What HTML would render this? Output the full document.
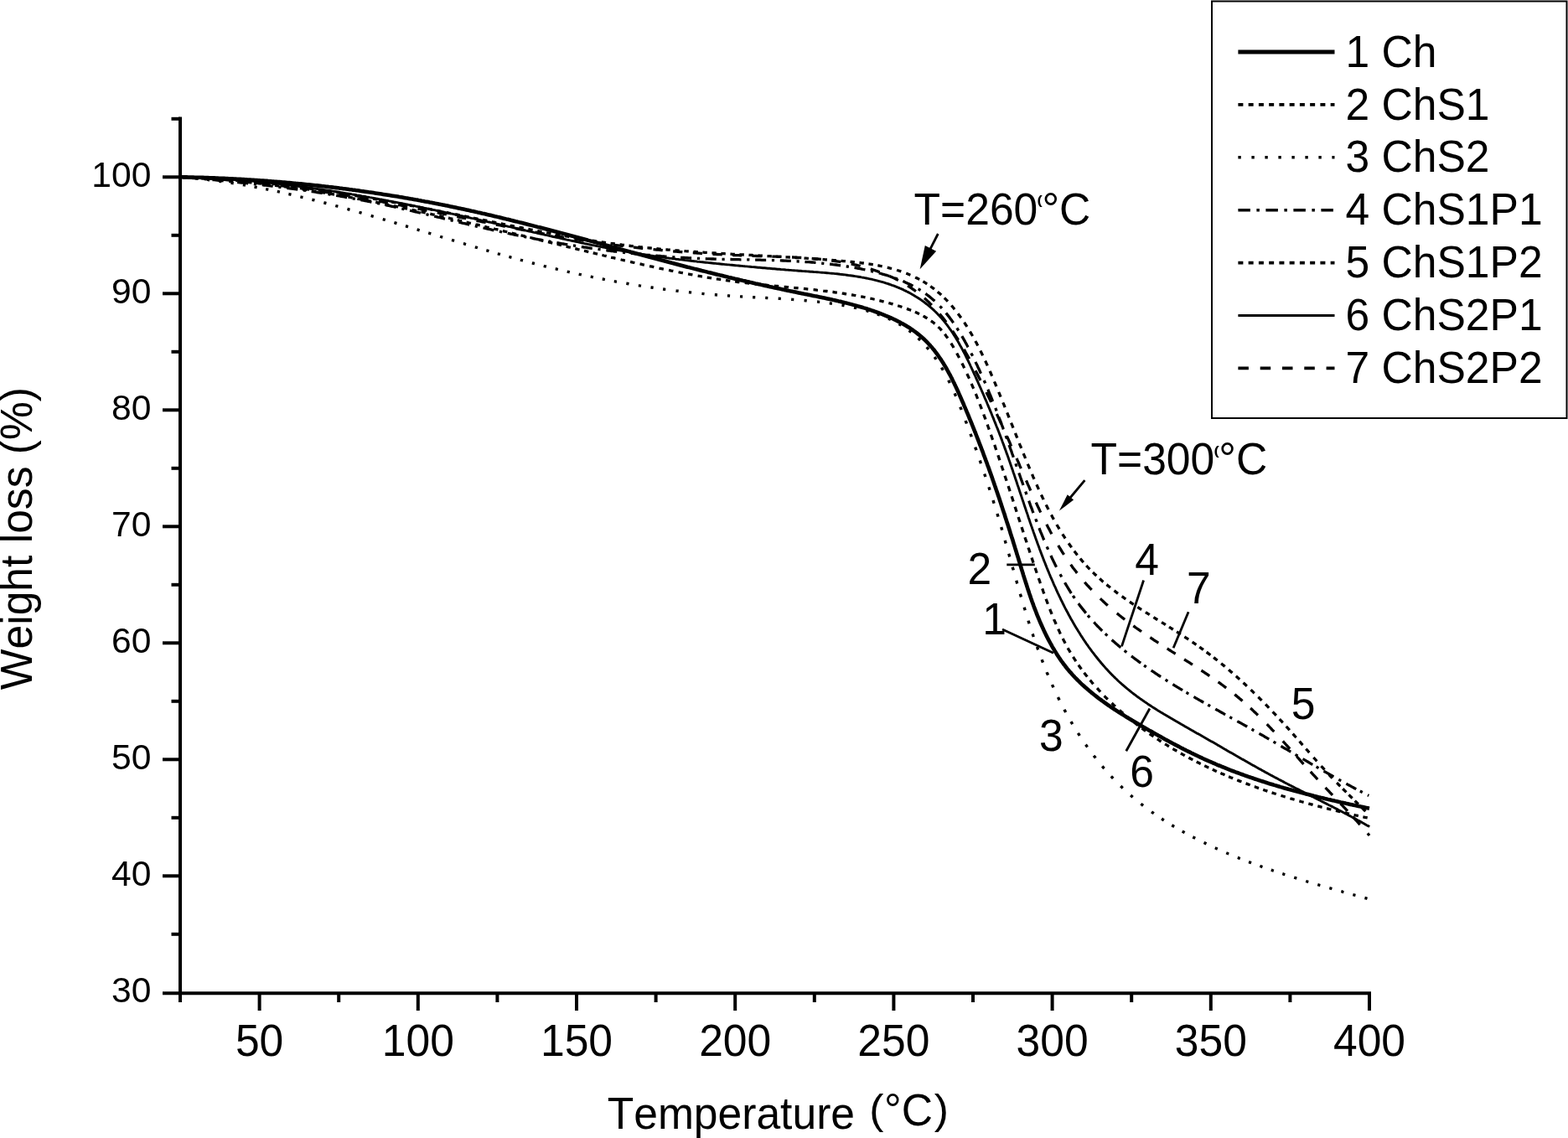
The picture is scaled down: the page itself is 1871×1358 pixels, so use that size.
<!DOCTYPE html>
<html lang="en"><head><meta charset="utf-8"><title>TGA weight loss curves</title>
<style>html,body{margin:0;padding:0;background:#fff}body{width:1871px;height:1358px;overflow:hidden}svg{display:block}text{font-family:"Liberation Sans", sans-serif;fill:#000;font-kerning:none;white-space:pre}</style></head><body>
<svg width="1871" height="1358" viewBox="0 0 1871 1358">
<rect x="0" y="0" width="1871" height="1358" fill="#fff"/>
<g stroke="#000" stroke-width="4.0" fill="none" stroke-linecap="butt">
<path d="M215.0 139.6 V1187.2"/>
<path d="M194.0 1185.2 H1636.0"/>
<path d="M204.5 1114.8 H215.0"/>
<path d="M194.0 1045.3 H215.0"/>
<path d="M204.5 975.8 H215.0"/>
<path d="M194.0 906.3 H215.0"/>
<path d="M204.5 836.8 H215.0"/>
<path d="M194.0 767.3 H215.0"/>
<path d="M204.5 697.8 H215.0"/>
<path d="M194.0 628.3 H215.0"/>
<path d="M204.5 558.8 H215.0"/>
<path d="M194.0 489.3 H215.0"/>
<path d="M204.5 419.8 H215.0"/>
<path d="M194.0 350.3 H215.0"/>
<path d="M204.5 280.8 H215.0"/>
<path d="M194.0 211.3 H215.0"/>
<path d="M204.5 141.8 H215.0"/>
<path d="M215.0 1185.2 V1196.0"/>
<path d="M309.6 1185.2 V1206.0"/>
<path d="M404.2 1185.2 V1196.0"/>
<path d="M498.8 1185.2 V1206.0"/>
<path d="M593.4 1185.2 V1196.0"/>
<path d="M688.0 1185.2 V1206.0"/>
<path d="M782.6 1185.2 V1196.0"/>
<path d="M877.2 1185.2 V1206.0"/>
<path d="M971.8 1185.2 V1196.0"/>
<path d="M1066.4 1185.2 V1206.0"/>
<path d="M1161.0 1185.2 V1196.0"/>
<path d="M1255.6 1185.2 V1206.0"/>
<path d="M1350.2 1185.2 V1196.0"/>
<path d="M1444.8 1185.2 V1206.0"/>
<path d="M1539.4 1185.2 V1196.0"/>
<path d="M1634.0 1185.2 V1206.0"/>
</g>
<g font-size="42.6" text-anchor="end">
<text x="180.4" y="1196.2">30</text>
<text x="180.4" y="1057.2">40</text>
<text x="180.4" y="918.2">50</text>
<text x="180.4" y="779.2">60</text>
<text x="180.4" y="640.2">70</text>
<text x="180.4" y="501.2">80</text>
<text x="180.4" y="362.2">90</text>
<text x="180.4" y="223.2">100</text>
</g>
<text transform="translate(309.6 1260.0) scale(1 1.040)" font-size="51.6" text-anchor="middle">50</text>
<text transform="translate(498.8 1260.0) scale(1 1.040)" font-size="51.6" text-anchor="middle">100</text>
<text transform="translate(688.0 1260.0) scale(1 1.040)" font-size="51.6" text-anchor="middle">150</text>
<text transform="translate(877.2 1260.0) scale(1 1.040)" font-size="51.6" text-anchor="middle">200</text>
<text transform="translate(1066.4 1260.0) scale(1 1.040)" font-size="51.6" text-anchor="middle">250</text>
<text transform="translate(1255.6 1260.0) scale(1 1.040)" font-size="51.6" text-anchor="middle">300</text>
<text transform="translate(1444.8 1260.0) scale(1 1.040)" font-size="51.6" text-anchor="middle">350</text>
<text transform="translate(1634.0 1260.0) scale(1 1.040)" font-size="51.6" text-anchor="middle">400</text>
<text transform="translate(724.7 1347.2) scale(1 1.040)" font-size="51.6" text-anchor="start">Temperature</text>
<text transform="translate(1037.3 1341.3) scale(1 0.965)" font-size="51.6" text-anchor="start">(</text>
<text transform="translate(1055.0 1343.4) scale(1 1.040)" font-size="51.6" text-anchor="start">&#176;C</text>
<text transform="translate(1114.7 1341.3) scale(1 0.965)" font-size="51.6" text-anchor="start">)</text>
<text transform="translate(38.0 642.6) rotate(-90) scale(1 1.040)" font-size="51.6" text-anchor="middle">Weight loss (%)</text>
<g fill="none" stroke="#000" stroke-linejoin="round">
<path stroke-width="3.4" stroke-dasharray="0 3.28 3.15 11.27 3.16 11.27 3.16 11.28 3.16 11.29 3.16 11.3 3.17 10.72 3.17 10.73 3.17 10.74 3.17 10.75 3.18 11.21 3.18 11.22 3.18 11.23 3.18 11.23 3.19 11.49 3.19 11.5 3.19 11.5 3.19 11.51 3.19 11.03 3.19 11.03 3.19 11.04 3.2 11.04 3.2 11.34 3.19 11.34 3.19 11.33 3.19 11.33 3.19 10.87 3.19 10.87 3.19 10.86 3.19 10.85 3.19 11.21 3.18 11.2 3.18 11.19 3.18 11.18 3.18 11.17 3.17 11.16 3.17 11.15 3.17 11.14 3.17 11.61 3.16 11.6 3.16 11.6 3.16 11.59 3.16 12.39 3.16 12.38 3.16 12.37 3.15 12.37 3.15 11.97 3.15 11.97 3.15 11.97 3.15 11.97 3.15 12.35 3.15 12.35 3.15 12.36 3.15 12.36 3.16 11.68 3.16 11.7 3.17 11.73 3.18 11.77 3.19 10.75 3.21 10.84 3.25 10.97 3.29 11.16 3.36 11.01 3.43 11.25 3.51 11.46 3.57 11.66 3.63 13.56 3.67 13.71 3.71 13.81 3.73 13.87 3.74 13.08 3.74 13.09 3.75 13.11 3.75 13.13 3.76 12.84 3.76 12.86 3.77 12.87 3.77 12.89 3.78 12.8 3.78 12.81 3.78 12.81 3.78 12.81 3.78 12.89 3.78 12.88 3.77 12.86 3.77 12.83 3.76 12.59 3.75 12.55 3.73 12.5 3.72 12.44 3.7 12.87 3.68 12.79 3.65 12.7 3.63 12.61 3.6 12.87 3.57 12.76 3.54 12.64 3.5 12.52 3.47 12.85 3.44 12.72 3.4 12.59 3.37 12.48 3.34 11.23 3.32 11.16 3.3 11.1 3.28 11.05 3.27 11.52 3.25 11.47 3.24 11.44 3.23 11.41 3.22 11.04 3.22 11.02 3.21 11 3.21 10.99 3.2 11.47 3.2 11.45 3.19 11.44 3.19 11.44 3.19 11.39 3.19 11.39 3.19 11.38 3.19 52.22" d="M215.0 211.3 L217.0 211.5 L219.1 211.6 L221.1 211.8 L223.2 211.9 L225.2 212.1 L227.3 212.3 L229.3 212.5 L231.3 212.7 L233.4 212.9 L235.4 213.1 L237.4 213.3 L239.5 213.5 L241.5 213.7 L243.5 214.0 L245.6 214.2 L247.6 214.4 L249.6 214.7 L251.7 214.9 L253.7 215.2 L255.7 215.4 L257.7 215.7 L259.7 216.0 L261.8 216.2 L263.8 216.5 L265.8 216.8 L267.8 217.1 L269.8 217.4 L271.9 217.7 L273.9 218.0 L275.9 218.3 L277.9 218.6 L279.9 218.9 L281.9 219.3 L283.9 219.6 L285.9 219.9 L287.9 220.2 L289.9 220.6 L291.9 220.9 L293.9 221.3 L295.9 221.6 L297.9 222.0 L299.9 222.4 L301.9 222.7 L303.9 223.1 L305.9 223.5 L307.9 223.9 L309.9 224.2 L311.9 224.6 L313.9 225.0 L315.9 225.4 L317.9 225.8 L319.9 226.2 L321.9 226.6 L323.9 227.0 L325.9 227.5 L327.9 227.9 L329.8 228.3 L331.8 228.7 L333.8 229.1 L335.8 229.6 L337.8 230.0 L339.8 230.5 L341.7 230.9 L343.7 231.4 L345.7 231.8 L347.7 232.3 L349.7 232.7 L351.6 233.2 L353.6 233.6 L355.6 234.1 L357.6 234.6 L359.6 235.1 L361.5 235.5 L363.5 236.0 L365.5 236.5 L367.4 237.0 L369.4 237.5 L371.4 238.0 L373.4 238.5 L375.3 238.9 L377.3 239.4 L379.3 240.0 L381.2 240.5 L383.2 241.0 L385.2 241.5 L387.1 242.0 L389.1 242.5 L391.1 243.0 L393.0 243.5 L395.0 244.1 L397.0 244.6 L398.9 245.1 L400.9 245.7 L402.9 246.2 L404.8 246.7 L406.8 247.3 L408.7 247.8 L410.7 248.3 L412.7 248.9 L414.6 249.4 L416.6 250.0 L418.5 250.5 L420.5 251.1 L422.5 251.6 L424.4 252.2 L426.4 252.7 L428.3 253.3 L430.3 253.8 L432.2 254.4 L434.2 255.0 L436.2 255.5 L438.1 256.1 L440.1 256.7 L442.0 257.2 L444.0 257.8 L445.9 258.4 L447.9 259.0 L449.8 259.5 L451.8 260.1 L453.7 260.7 L455.7 261.3 L457.6 261.8 L459.6 262.4 L461.6 263.0 L463.5 263.6 L465.5 264.2 L467.4 264.7 L469.4 265.3 L471.3 265.9 L473.3 266.5 L475.2 267.1 L477.2 267.7 L479.1 268.3 L481.1 268.9 L483.0 269.4 L485.0 270.0 L486.9 270.6 L488.9 271.2 L490.8 271.8 L492.8 272.4 L494.7 273.0 L496.7 273.6 L498.6 274.2 L500.6 274.8 L502.5 275.4 L504.5 276.0 L506.4 276.6 L508.4 277.1 L510.3 277.7 L512.3 278.3 L514.2 278.9 L516.2 279.5 L518.1 280.1 L520.1 280.7 L522.0 281.3 L524.0 281.9 L525.9 282.5 L527.9 283.1 L529.8 283.7 L531.8 284.3 L533.7 284.9 L535.7 285.4 L537.6 286.0 L539.6 286.6 L541.5 287.2 L543.5 287.8 L545.4 288.4 L547.4 289.0 L549.3 289.6 L551.3 290.2 L553.3 290.7 L555.2 291.3 L557.2 291.9 L559.1 292.5 L561.1 293.1 L563.0 293.7 L565.0 294.2 L566.9 294.8 L568.9 295.4 L570.8 296.0 L572.8 296.5 L574.8 297.1 L576.7 297.7 L578.7 298.3 L580.6 298.8 L582.6 299.4 L584.5 300.0 L586.5 300.5 L588.5 301.1 L590.4 301.6 L592.4 302.2 L594.3 302.8 L596.3 303.3 L598.3 303.9 L600.2 304.4 L602.2 305.0 L604.1 305.5 L606.1 306.1 L608.1 306.6 L610.0 307.2 L612.0 307.7 L614.0 308.2 L615.9 308.8 L617.9 309.3 L619.9 309.8 L621.8 310.4 L623.8 310.9 L625.8 311.4 L627.7 312.0 L629.7 312.5 L631.7 313.0 L633.6 313.5 L635.6 314.0 L637.6 314.5 L639.6 315.0 L641.5 315.6 L643.5 316.1 L645.5 316.6 L647.4 317.1 L649.4 317.6 L651.4 318.0 L653.4 318.5 L655.4 319.0 L657.3 319.5 L659.3 320.0 L661.3 320.5 L663.3 320.9 L665.3 321.4 L667.2 321.9 L669.2 322.3 L671.2 322.8 L673.2 323.3 L675.2 323.7 L677.2 324.2 L679.1 324.6 L681.1 325.1 L683.1 325.5 L685.1 326.0 L687.1 326.4 L689.1 326.9 L691.1 327.3 L693.1 327.7 L695.0 328.1 L697.0 328.6 L699.0 329.0 L701.0 329.4 L703.0 329.8 L705.0 330.2 L707.0 330.6 L709.0 331.1 L711.0 331.5 L713.0 331.9 L715.0 332.3 L717.0 332.7 L719.0 333.0 L721.0 333.4 L723.0 333.8 L725.0 334.2 L727.0 334.6 L729.0 335.0 L731.0 335.3 L733.0 335.7 L735.0 336.1 L737.0 336.4 L739.0 336.8 L741.0 337.1 L743.0 337.5 L745.0 337.8 L747.0 338.2 L749.0 338.5 L751.0 338.9 L753.0 339.2 L755.0 339.5 L757.0 339.9 L759.0 340.2 L761.1 340.5 L763.1 340.9 L765.1 341.2 L767.1 341.5 L769.1 341.8 L771.1 342.1 L773.1 342.4 L775.1 342.7 L777.1 343.0 L779.2 343.3 L781.2 343.6 L783.2 343.9 L785.2 344.2 L787.2 344.5 L789.2 344.7 L791.2 345.0 L793.3 345.3 L795.3 345.5 L797.3 345.8 L799.3 346.1 L801.3 346.3 L803.3 346.6 L805.4 346.8 L807.4 347.1 L809.4 347.3 L811.4 347.6 L813.4 347.8 L815.5 348.0 L817.5 348.3 L819.5 348.5 L821.5 348.7 L823.5 348.9 L825.6 349.2 L827.6 349.4 L829.6 349.6 L831.6 349.8 L833.7 350.0 L835.7 350.2 L837.7 350.4 L839.7 350.6 L841.8 350.8 L843.8 351.0 L845.8 351.1 L847.8 351.3 L849.9 351.5 L851.9 351.7 L853.9 351.8 L855.9 352.0 L858.0 352.2 L860.0 352.3 L862.0 352.5 L864.0 352.6 L866.1 352.8 L868.1 352.9 L870.1 353.0 L872.2 353.2 L874.2 353.3 L876.2 353.4 L878.2 353.6 L880.3 353.7 L882.3 353.8 L884.3 353.9 L886.4 354.0 L888.4 354.1 L890.4 354.3 L892.5 354.4 L894.5 354.5 L896.5 354.6 L898.6 354.7 L900.6 354.8 L902.6 354.9 L904.7 355.0 L906.7 355.1 L908.7 355.2 L910.8 355.3 L912.8 355.4 L914.8 355.5 L916.9 355.6 L918.9 355.8 L920.9 355.9 L923.0 356.0 L925.0 356.1 L927.0 356.2 L929.1 356.3 L931.1 356.4 L933.2 356.6 L935.2 356.7 L937.2 356.8 L939.3 357.0 L941.3 357.1 L943.3 357.2 L945.4 357.4 L947.4 357.5 L949.5 357.7 L951.5 357.8 L953.5 358.0 L955.6 358.2 L957.6 358.3 L959.7 358.5 L961.7 358.7 L963.7 358.9 L965.8 359.1 L967.8 359.3 L969.9 359.5 L971.9 359.7 L973.9 359.9 L976.0 360.1 L978.0 360.4 L980.1 360.6 L982.1 360.9 L984.2 361.1 L986.2 361.4 L988.2 361.6 L990.3 361.9 L992.3 362.2 L994.4 362.5 L996.4 362.8 L998.5 363.1 L1000.5 363.5 L1002.5 363.8 L1004.6 364.1 L1006.6 364.5 L1008.6 364.9 L1010.7 365.3 L1012.7 365.7 L1014.7 366.1 L1016.7 366.5 L1018.7 366.9 L1020.8 367.4 L1022.8 367.8 L1024.8 368.3 L1026.7 368.8 L1028.7 369.3 L1030.7 369.8 L1032.7 370.4 L1034.6 370.9 L1036.6 371.5 L1038.5 372.1 L1040.5 372.7 L1042.4 373.3 L1044.3 374.0 L1046.2 374.6 L1048.1 375.3 L1050.0 376.0 L1051.9 376.7 L1053.7 377.5 L1055.6 378.2 L1057.4 379.0 L1059.3 379.8 L1061.1 380.6 L1062.9 381.5 L1064.7 382.3 L1066.4 383.2 L1068.2 384.1 L1069.9 385.1 L1071.7 386.0 L1073.4 387.0 L1075.1 388.0 L1076.8 389.1 L1078.4 390.1 L1080.1 391.2 L1081.7 392.3 L1083.3 393.5 L1084.9 394.6 L1086.5 395.8 L1088.0 397.0 L1089.6 398.3 L1091.1 399.5 L1092.6 400.8 L1094.1 402.1 L1095.5 403.5 L1097.0 404.9 L1098.4 406.3 L1099.8 407.7 L1101.2 409.1 L1102.6 410.6 L1103.9 412.0 L1105.3 413.5 L1106.6 415.1 L1107.9 416.6 L1109.2 418.2 L1110.4 419.7 L1111.7 421.3 L1112.9 422.9 L1114.1 424.6 L1115.3 426.2 L1116.5 427.9 L1117.6 429.6 L1118.8 431.3 L1119.9 433.0 L1121.0 434.7 L1122.1 436.4 L1123.2 438.2 L1124.2 439.9 L1125.3 441.7 L1126.3 443.5 L1127.3 445.3 L1128.3 447.1 L1129.3 448.9 L1130.2 450.7 L1131.2 452.5 L1132.1 454.4 L1133.0 456.2 L1133.9 458.1 L1134.8 459.9 L1135.7 461.8 L1136.6 463.7 L1137.4 465.5 L1138.3 467.4 L1139.1 469.3 L1139.9 471.2 L1140.8 473.1 L1141.6 475.1 L1142.4 477.0 L1143.2 478.9 L1143.9 480.8 L1144.7 482.7 L1145.5 484.7 L1146.2 486.6 L1147.0 488.5 L1147.7 490.5 L1148.5 492.4 L1149.2 494.3 L1150.0 496.3 L1150.7 498.2 L1151.4 500.1 L1152.1 502.1 L1152.9 504.0 L1153.6 505.9 L1154.3 507.9 L1155.0 509.8 L1155.7 511.7 L1156.4 513.7 L1157.1 515.6 L1157.9 517.5 L1158.6 519.4 L1159.3 521.4 L1160.0 523.3 L1160.6 525.2 L1161.3 527.1 L1162.0 529.0 L1162.7 531.0 L1163.4 532.9 L1164.1 534.8 L1164.8 536.7 L1165.4 538.6 L1166.1 540.6 L1166.8 542.5 L1167.5 544.4 L1168.1 546.3 L1168.8 548.2 L1169.5 550.1 L1170.1 552.0 L1170.8 554.0 L1171.4 555.9 L1172.1 557.8 L1172.8 559.7 L1173.4 561.6 L1174.1 563.5 L1174.7 565.4 L1175.3 567.3 L1176.0 569.3 L1176.6 571.2 L1177.3 573.1 L1177.9 575.0 L1178.5 576.9 L1179.2 578.8 L1179.8 580.8 L1180.4 582.7 L1181.0 584.6 L1181.6 586.5 L1182.3 588.4 L1182.9 590.4 L1183.5 592.3 L1184.1 594.2 L1184.7 596.1 L1185.3 598.1 L1185.9 600.0 L1186.5 601.9 L1187.1 603.9 L1187.7 605.8 L1188.3 607.7 L1188.9 609.6 L1189.5 611.6 L1190.1 613.5 L1190.7 615.5 L1191.2 617.4 L1191.8 619.3 L1192.4 621.3 L1193.0 623.2 L1193.5 625.2 L1194.1 627.1 L1194.7 629.1 L1195.3 631.0 L1195.8 633.0 L1196.4 634.9 L1196.9 636.9 L1197.5 638.9 L1198.1 640.8 L1198.6 642.8 L1199.2 644.7 L1199.7 646.7 L1200.3 648.7 L1200.9 650.6 L1201.4 652.6 L1202.0 654.5 L1202.5 656.5 L1203.1 658.5 L1203.6 660.4 L1204.2 662.4 L1204.7 664.4 L1205.3 666.3 L1205.8 668.3 L1206.4 670.3 L1206.9 672.2 L1207.5 674.2 L1208.0 676.2 L1208.6 678.2 L1209.2 680.1 L1209.7 682.1 L1210.3 684.1 L1210.8 686.0 L1211.4 688.0 L1211.9 690.0 L1212.5 691.9 L1213.1 693.9 L1213.6 695.9 L1214.2 697.8 L1214.8 699.8 L1215.3 701.8 L1215.9 703.7 L1216.5 705.7 L1217.0 707.7 L1217.6 709.6 L1218.2 711.6 L1218.8 713.6 L1219.3 715.5 L1219.9 717.5 L1220.5 719.5 L1221.1 721.4 L1221.7 723.4 L1222.3 725.3 L1222.9 727.3 L1223.5 729.3 L1224.1 731.2 L1224.7 733.2 L1225.3 735.1 L1225.9 737.1 L1226.5 739.0 L1227.1 741.0 L1227.7 742.9 L1228.3 744.9 L1229.0 746.8 L1229.6 748.8 L1230.2 750.7 L1230.9 752.6 L1231.5 754.6 L1232.2 756.5 L1232.8 758.5 L1233.5 760.4 L1234.1 762.3 L1234.8 764.2 L1235.5 766.2 L1236.1 768.1 L1236.8 770.0 L1237.5 771.9 L1238.2 773.9 L1238.9 775.8 L1239.6 777.7 L1240.3 779.6 L1241.0 781.5 L1241.7 783.4 L1242.4 785.3 L1243.1 787.2 L1243.9 789.1 L1244.6 791.0 L1245.3 792.9 L1246.1 794.8 L1246.8 796.7 L1247.6 798.6 L1248.4 800.5 L1249.1 802.3 L1249.9 804.2 L1250.7 806.1 L1251.5 808.0 L1252.3 809.8 L1253.1 811.7 L1253.9 813.6 L1254.7 815.4 L1255.5 817.3 L1256.4 819.1 L1257.2 821.0 L1258.0 822.8 L1258.9 824.6 L1259.8 826.5 L1260.6 828.3 L1261.5 830.1 L1262.4 832.0 L1263.3 833.8 L1264.2 835.6 L1265.1 837.4 L1266.0 839.2 L1266.9 841.0 L1267.9 842.8 L1268.8 844.6 L1269.7 846.4 L1270.7 848.2 L1271.7 850.0 L1272.6 851.8 L1273.6 853.6 L1274.6 855.3 L1275.6 857.1 L1276.6 858.9 L1277.6 860.6 L1278.7 862.4 L1279.7 864.1 L1280.7 865.9 L1281.8 867.6 L1282.8 869.4 L1283.9 871.1 L1285.0 872.8 L1286.1 874.5 L1287.2 876.2 L1288.3 877.9 L1289.4 879.6 L1290.5 881.3 L1291.6 883.0 L1292.8 884.7 L1293.9 886.4 L1295.1 888.1 L1296.3 889.7 L1297.4 891.4 L1298.6 893.0 L1299.8 894.7 L1301.0 896.3 L1302.2 897.9 L1303.4 899.6 L1304.7 901.2 L1305.9 902.8 L1307.2 904.4 L1308.4 906.0 L1309.7 907.6 L1310.9 909.2 L1312.2 910.7 L1313.5 912.3 L1314.8 913.9 L1316.1 915.4 L1317.4 917.0 L1318.8 918.5 L1320.1 920.0 L1321.5 921.5 L1322.8 923.1 L1324.2 924.6 L1325.5 926.1 L1326.9 927.5 L1328.3 929.0 L1329.7 930.5 L1331.1 931.9 L1332.5 933.4 L1334.0 934.8 L1335.4 936.3 L1336.9 937.7 L1338.3 939.1 L1339.8 940.5 L1341.3 941.9 L1342.7 943.3 L1344.2 944.7 L1345.7 946.0 L1347.2 947.4 L1348.8 948.7 L1350.3 950.1 L1351.8 951.4 L1353.4 952.7 L1354.9 954.0 L1356.5 955.3 L1358.1 956.6 L1359.7 957.9 L1361.3 959.2 L1362.9 960.4 L1364.5 961.7 L1366.1 962.9 L1367.7 964.1 L1369.4 965.4 L1371.0 966.6 L1372.6 967.8 L1374.3 969.0 L1376.0 970.1 L1377.6 971.3 L1379.3 972.5 L1381.0 973.6 L1382.7 974.8 L1384.4 975.9 L1386.1 977.0 L1387.8 978.2 L1389.5 979.3 L1391.3 980.4 L1393.0 981.5 L1394.7 982.6 L1396.5 983.6 L1398.2 984.7 L1400.0 985.8 L1401.7 986.8 L1403.5 987.8 L1405.3 988.9 L1407.1 989.9 L1408.8 990.9 L1410.6 991.9 L1412.4 992.9 L1414.2 993.9 L1416.0 994.9 L1417.8 995.9 L1419.6 996.9 L1421.4 997.8 L1423.2 998.8 L1425.0 999.7 L1426.9 1000.7 L1428.7 1001.6 L1430.5 1002.5 L1432.3 1003.4 L1434.2 1004.3 L1436.0 1005.2 L1437.9 1006.1 L1439.7 1007.0 L1441.5 1007.9 L1443.4 1008.8 L1445.2 1009.7 L1447.1 1010.5 L1448.9 1011.4 L1450.8 1012.2 L1452.6 1013.1 L1454.5 1013.9 L1456.4 1014.7 L1458.2 1015.5 L1460.1 1016.4 L1461.9 1017.2 L1463.8 1018.0 L1465.7 1018.8 L1467.6 1019.5 L1469.4 1020.3 L1471.3 1021.1 L1473.2 1021.9 L1475.1 1022.7 L1477.0 1023.4 L1478.8 1024.2 L1480.7 1024.9 L1482.6 1025.7 L1484.5 1026.4 L1486.4 1027.1 L1488.3 1027.9 L1490.2 1028.6 L1492.1 1029.3 L1494.0 1030.0 L1495.9 1030.7 L1497.8 1031.4 L1499.7 1032.1 L1501.6 1032.8 L1503.5 1033.5 L1505.4 1034.2 L1507.4 1034.9 L1509.3 1035.6 L1511.2 1036.2 L1513.1 1036.9 L1515.0 1037.6 L1516.9 1038.2 L1518.9 1038.9 L1520.8 1039.5 L1522.7 1040.2 L1524.6 1040.8 L1526.6 1041.5 L1528.5 1042.1 L1530.4 1042.7 L1532.3 1043.4 L1534.3 1044.0 L1536.2 1044.6 L1538.1 1045.2 L1540.1 1045.9 L1542.0 1046.5 L1544.0 1047.1 L1545.9 1047.7 L1547.8 1048.3 L1549.8 1048.9 L1551.7 1049.5 L1553.7 1050.1 L1555.6 1050.7 L1557.6 1051.3 L1559.5 1051.9 L1561.5 1052.4 L1563.4 1053.0 L1565.4 1053.6 L1567.3 1054.2 L1569.3 1054.8 L1571.2 1055.3 L1573.2 1055.9 L1575.1 1056.5 L1577.1 1057.0 L1579.0 1057.6 L1581.0 1058.2 L1582.9 1058.7 L1584.9 1059.3 L1586.9 1059.8 L1588.8 1060.4 L1590.8 1061.0 L1592.7 1061.5 L1594.7 1062.1 L1596.7 1062.6 L1598.6 1063.2 L1600.6 1063.7 L1602.5 1064.3 L1604.5 1064.8 L1606.5 1065.4 L1608.4 1065.9 L1610.4 1066.5 L1612.4 1067.0 L1614.3 1067.6 L1616.3 1068.1 L1618.3 1068.6 L1620.2 1069.2 L1622.2 1069.7 L1624.2 1070.3 L1626.1 1070.8 L1628.1 1071.4 L1630.1 1071.9 L1632.0 1072.5 L1634.0 1073.0"/>
<path stroke-width="3.3" stroke-dasharray="0 3.12 5.4 5.63 5.4 5.63 5.4 5.63 5.4 5.63 5.41 5.63 5.41 5.63 5.41 5.64 5.41 5.64 5.41 5.64 5.41 5.64 5.42 5.64 5.42 5.64 5.42 5.65 5.42 5.65 5.42 5.65 5.42 5.65 5.43 5.65 5.43 5.66 5.43 5.66 5.43 5.66 5.43 5.66 5.43 5.66 5.44 5.66 5.44 5.67 5.44 5.67 5.44 5.67 5.44 5.67 5.44 5.67 5.44 5.67 5.45 5.67 5.45 5.67 5.45 5.68 5.45 5.68 5.45 5.68 5.45 5.68 5.45 5.68 5.45 5.68 5.45 5.68 5.45 5.68 5.45 5.68 5.45 5.68 5.45 5.68 5.45 5.58 5.45 5.58 5.45 5.58 5.45 5.58 5.45 5.58 5.45 6.33 5.45 6.33 5.45 6.33 5.44 6.32 5.44 6.32 5.44 6.32 5.44 6.31 5.43 6.31 5.43 6.31 5.43 5.84 5.42 5.84 5.42 5.83 5.42 5.83 5.41 6.36 5.41 6.35 5.41 6.35 5.41 6.35 5.41 6.35 5.41 6.31 5.41 6.31 5.41 6.31 5.41 6.31 5.41 5.95 5.42 5.95 5.42 5.96 5.43 5.97 5.43 5.98 5.44 5.85 5.46 5.86 5.47 5.88 5.49 5.9 5.52 5.19 5.56 5.24 5.64 5.34 5.77 5.48 5.94 5.64 6.09 7.28 6.21 7.38 6.27 7.43 6.31 7.47 6.34 6.7 6.36 6.73 6.39 6.75 6.4 6.76 6.41 6.45 6.42 6.46 6.43 6.46 6.44 6.47 6.44 6.51 6.44 6.52 6.45 6.52 6.45 6.52 6.45 6.52 6.45 6.37 6.45 6.37 6.45 6.37 6.45 6.37 6.44 6.36 6.44 6.36 6.44 6.67 6.43 6.66 6.42 6.65 6.41 6.63 6.39 6.6 6.36 6.4 6.32 6.36 6.28 6.31 6.23 6.25 6.17 5.38 6.11 5.33 6.05 5.29 6.01 6.68 5.95 6.62 5.91 6.57 5.87 6.53 5.83 5.7 5.8 5.67 5.77 5.64 5.74 5.62 5.71 5.31 5.69 5.29 5.66 5.27 5.64 5.25 5.62 5.23 5.6 5.01 5.59 5 5.57 4.99 5.56 4.98 5.55 4.96 5.53 5.51 5.52 5.5 5.51 5.49 5.5 5.48 5.5 5.47 5.49 5.95 5.48 5.95 5.47 5.94 5.47 5.93 5.46 5.93 5.46 5.68 5.45 5.67 5.45 5.67 5.45 5.66 5.44 5.66 5.44 52.15" d="M215.0 211.3 L217.0 211.4 L218.9 211.5 L220.9 211.6 L222.9 211.7 L224.9 211.7 L226.8 211.8 L228.8 212.0 L230.8 212.1 L232.8 212.2 L234.7 212.3 L236.7 212.4 L238.7 212.5 L240.6 212.6 L242.6 212.8 L244.6 212.9 L246.5 213.0 L248.5 213.2 L250.5 213.3 L252.4 213.4 L254.4 213.6 L256.4 213.7 L258.3 213.9 L260.3 214.0 L262.3 214.2 L264.2 214.4 L266.2 214.5 L268.1 214.7 L270.1 214.9 L272.1 215.0 L274.0 215.2 L276.0 215.4 L277.9 215.6 L279.9 215.8 L281.9 215.9 L283.8 216.1 L285.8 216.3 L287.7 216.5 L289.7 216.7 L291.6 216.9 L293.6 217.1 L295.5 217.3 L297.5 217.6 L299.5 217.8 L301.4 218.0 L303.4 218.2 L305.3 218.4 L307.3 218.6 L309.2 218.9 L311.2 219.1 L313.1 219.3 L315.1 219.6 L317.0 219.8 L319.0 220.1 L320.9 220.3 L322.9 220.5 L324.8 220.8 L326.8 221.0 L328.7 221.3 L330.7 221.6 L332.6 221.8 L334.6 222.1 L336.5 222.3 L338.4 222.6 L340.4 222.9 L342.3 223.1 L344.3 223.4 L346.2 223.7 L348.2 224.0 L350.1 224.3 L352.0 224.5 L354.0 224.8 L355.9 225.1 L357.9 225.4 L359.8 225.7 L361.8 226.0 L363.7 226.3 L365.6 226.6 L367.6 226.9 L369.5 227.2 L371.5 227.5 L373.4 227.8 L375.3 228.1 L377.3 228.4 L379.2 228.8 L381.1 229.1 L383.1 229.4 L385.0 229.7 L387.0 230.0 L388.9 230.4 L390.8 230.7 L392.8 231.0 L394.7 231.4 L396.6 231.7 L398.6 232.0 L400.5 232.4 L402.4 232.7 L404.4 233.1 L406.3 233.4 L408.2 233.7 L410.2 234.1 L412.1 234.4 L414.0 234.8 L415.9 235.1 L417.9 235.5 L419.8 235.9 L421.7 236.2 L423.7 236.6 L425.6 236.9 L427.5 237.3 L429.5 237.7 L431.4 238.0 L433.3 238.4 L435.2 238.8 L437.2 239.2 L439.1 239.5 L441.0 239.9 L443.0 240.3 L444.9 240.7 L446.8 241.1 L448.7 241.4 L450.7 241.8 L452.6 242.2 L454.5 242.6 L456.4 243.0 L458.4 243.4 L460.3 243.8 L462.2 244.2 L464.1 244.6 L466.1 245.0 L468.0 245.4 L469.9 245.8 L471.8 246.2 L473.7 246.6 L475.7 247.0 L477.6 247.4 L479.5 247.8 L481.4 248.2 L483.4 248.6 L485.3 249.0 L487.2 249.4 L489.1 249.8 L491.0 250.3 L493.0 250.7 L494.9 251.1 L496.8 251.5 L498.7 251.9 L500.6 252.4 L502.6 252.8 L504.5 253.2 L506.4 253.6 L508.3 254.1 L510.2 254.5 L512.2 254.9 L514.1 255.3 L516.0 255.8 L517.9 256.2 L519.8 256.6 L521.7 257.1 L523.7 257.5 L525.6 257.9 L527.5 258.4 L529.4 258.8 L531.3 259.3 L533.2 259.7 L535.2 260.1 L537.1 260.6 L539.0 261.0 L540.9 261.5 L542.8 261.9 L544.7 262.4 L546.7 262.8 L548.6 263.3 L550.5 263.7 L552.4 264.2 L554.3 264.6 L556.2 265.1 L558.1 265.5 L560.1 266.0 L562.0 266.4 L563.9 266.9 L565.8 267.3 L567.7 267.8 L569.6 268.2 L571.5 268.7 L573.4 269.1 L575.4 269.6 L577.3 270.1 L579.2 270.5 L581.1 271.0 L583.0 271.4 L584.9 271.9 L586.8 272.4 L588.7 272.8 L590.7 273.3 L592.6 273.7 L594.5 274.2 L596.4 274.7 L598.3 275.1 L600.2 275.6 L602.1 276.1 L604.0 276.5 L606.0 277.0 L607.9 277.4 L609.8 277.9 L611.7 278.4 L613.6 278.8 L615.5 279.3 L617.4 279.8 L619.3 280.2 L621.2 280.7 L623.2 281.2 L625.1 281.6 L627.0 282.1 L628.9 282.6 L630.8 283.1 L632.7 283.5 L634.6 284.0 L636.5 284.5 L638.4 284.9 L640.4 285.4 L642.3 285.9 L644.2 286.3 L646.1 286.8 L648.0 287.3 L649.9 287.7 L651.8 288.2 L653.7 288.7 L655.6 289.1 L657.5 289.6 L659.5 290.1 L661.4 290.6 L663.3 291.0 L665.2 291.5 L667.1 292.0 L669.0 292.4 L670.9 292.9 L672.8 293.4 L674.7 293.8 L676.6 294.3 L678.6 294.8 L680.5 295.2 L682.4 295.7 L684.3 296.2 L686.2 296.6 L688.1 297.1 L690.0 297.6 L691.9 298.0 L693.8 298.5 L695.7 299.0 L697.7 299.4 L699.6 299.9 L701.5 300.4 L703.4 300.8 L705.3 301.3 L707.2 301.7 L709.1 302.2 L711.0 302.7 L712.9 303.1 L714.9 303.6 L716.8 304.1 L718.7 304.5 L720.6 305.0 L722.5 305.4 L724.4 305.9 L726.3 306.3 L728.2 306.8 L730.1 307.3 L732.1 307.7 L734.0 308.2 L735.9 308.6 L737.8 309.1 L739.7 309.5 L741.6 310.0 L743.5 310.4 L745.4 310.9 L747.4 311.3 L749.3 311.7 L751.2 312.2 L753.1 312.6 L755.0 313.1 L756.9 313.5 L758.8 313.9 L760.8 314.4 L762.7 314.8 L764.6 315.2 L766.5 315.7 L768.4 316.1 L770.3 316.5 L772.2 316.9 L774.2 317.4 L776.1 317.8 L778.0 318.2 L779.9 318.6 L781.8 319.0 L783.8 319.4 L785.7 319.9 L787.6 320.3 L789.5 320.7 L791.4 321.1 L793.4 321.5 L795.3 321.9 L797.2 322.3 L799.1 322.7 L801.1 323.1 L803.0 323.4 L804.9 323.8 L806.8 324.2 L808.8 324.6 L810.7 325.0 L812.6 325.4 L814.5 325.7 L816.5 326.1 L818.4 326.5 L820.3 326.8 L822.2 327.2 L824.2 327.5 L826.1 327.9 L828.0 328.3 L830.0 328.6 L831.9 329.0 L833.8 329.3 L835.8 329.6 L837.7 330.0 L839.6 330.3 L841.6 330.6 L843.5 331.0 L845.5 331.3 L847.4 331.6 L849.3 331.9 L851.3 332.2 L853.2 332.5 L855.1 332.8 L857.1 333.1 L859.0 333.4 L861.0 333.7 L862.9 334.0 L864.9 334.3 L866.8 334.6 L868.8 334.9 L870.7 335.1 L872.7 335.4 L874.6 335.7 L876.6 335.9 L878.5 336.2 L880.5 336.5 L882.4 336.7 L884.4 337.0 L886.3 337.2 L888.3 337.4 L890.2 337.7 L892.2 337.9 L894.2 338.1 L896.1 338.3 L898.1 338.6 L900.0 338.8 L902.0 339.0 L904.0 339.2 L905.9 339.4 L907.9 339.6 L909.8 339.8 L911.8 340.0 L913.8 340.2 L915.7 340.4 L917.7 340.6 L919.7 340.8 L921.6 341.0 L923.6 341.1 L925.6 341.3 L927.5 341.5 L929.5 341.7 L931.5 341.9 L933.4 342.1 L935.4 342.3 L937.4 342.4 L939.3 342.6 L941.3 342.8 L943.3 343.0 L945.2 343.2 L947.2 343.4 L949.2 343.6 L951.1 343.7 L953.1 343.9 L955.0 344.1 L957.0 344.3 L959.0 344.5 L960.9 344.7 L962.9 344.9 L964.9 345.1 L966.8 345.3 L968.8 345.5 L970.7 345.7 L972.7 345.9 L974.7 346.2 L976.6 346.4 L978.6 346.6 L980.5 346.8 L982.5 347.1 L984.4 347.3 L986.4 347.5 L988.3 347.8 L990.3 348.0 L992.2 348.3 L994.2 348.5 L996.1 348.8 L998.1 349.1 L1000.0 349.3 L1002.0 349.6 L1003.9 349.9 L1005.9 350.2 L1007.8 350.5 L1009.7 350.8 L1011.7 351.1 L1013.6 351.4 L1015.6 351.7 L1017.5 352.0 L1019.4 352.4 L1021.3 352.7 L1023.3 353.1 L1025.2 353.4 L1027.1 353.8 L1029.0 354.1 L1031.0 354.5 L1032.9 354.9 L1034.8 355.3 L1036.7 355.7 L1038.6 356.1 L1040.5 356.5 L1042.5 357.0 L1044.4 357.4 L1046.3 357.9 L1048.2 358.3 L1050.1 358.8 L1052.0 359.3 L1053.9 359.8 L1055.8 360.3 L1057.6 360.8 L1059.5 361.3 L1061.4 361.8 L1063.3 362.4 L1065.2 362.9 L1067.1 363.5 L1068.9 364.0 L1070.8 364.6 L1072.7 365.2 L1074.6 365.8 L1076.4 366.5 L1078.3 367.1 L1080.1 367.7 L1082.0 368.4 L1083.8 369.1 L1085.7 369.8 L1087.5 370.5 L1089.3 371.2 L1091.1 372.0 L1092.9 372.8 L1094.7 373.6 L1096.4 374.4 L1098.2 375.3 L1099.9 376.1 L1101.6 377.1 L1103.3 378.0 L1104.9 379.0 L1106.6 380.0 L1108.2 381.0 L1109.8 382.1 L1111.3 383.2 L1112.9 384.3 L1114.4 385.5 L1115.9 386.7 L1117.3 387.9 L1118.7 389.2 L1120.1 390.6 L1121.5 391.9 L1122.8 393.3 L1124.1 394.8 L1125.3 396.3 L1126.6 397.8 L1127.8 399.3 L1128.9 400.9 L1130.1 402.5 L1131.2 404.1 L1132.4 405.7 L1133.4 407.4 L1134.5 409.1 L1135.6 410.8 L1136.6 412.5 L1137.6 414.2 L1138.6 416.0 L1139.6 417.7 L1140.6 419.5 L1141.6 421.3 L1142.5 423.0 L1143.4 424.8 L1144.4 426.6 L1145.3 428.4 L1146.2 430.1 L1147.1 431.9 L1148.0 433.7 L1148.9 435.5 L1149.8 437.3 L1150.6 439.1 L1151.5 440.9 L1152.3 442.7 L1153.2 444.5 L1154.0 446.3 L1154.8 448.1 L1155.7 449.9 L1156.5 451.7 L1157.3 453.5 L1158.1 455.3 L1158.9 457.1 L1159.6 458.9 L1160.4 460.8 L1161.2 462.6 L1162.0 464.4 L1162.7 466.2 L1163.5 468.0 L1164.2 469.9 L1165.0 471.7 L1165.7 473.5 L1166.4 475.3 L1167.1 477.2 L1167.9 479.0 L1168.6 480.8 L1169.3 482.7 L1170.0 484.5 L1170.7 486.3 L1171.4 488.2 L1172.1 490.0 L1172.8 491.9 L1173.5 493.7 L1174.1 495.5 L1174.8 497.4 L1175.5 499.2 L1176.2 501.1 L1176.8 502.9 L1177.5 504.8 L1178.2 506.6 L1178.8 508.5 L1179.5 510.3 L1180.1 512.2 L1180.8 514.0 L1181.4 515.8 L1182.1 517.7 L1182.7 519.6 L1183.4 521.4 L1184.0 523.3 L1184.7 525.1 L1185.3 527.0 L1186.0 528.8 L1186.6 530.7 L1187.3 532.5 L1187.9 534.4 L1188.5 536.2 L1189.2 538.1 L1189.8 539.9 L1190.4 541.8 L1191.0 543.7 L1191.7 545.5 L1192.3 547.4 L1192.9 549.2 L1193.6 551.1 L1194.2 553.0 L1194.8 554.8 L1195.4 556.7 L1196.0 558.5 L1196.7 560.4 L1197.3 562.3 L1197.9 564.1 L1198.5 566.0 L1199.1 567.9 L1199.7 569.7 L1200.3 571.6 L1201.0 573.4 L1201.6 575.3 L1202.2 577.2 L1202.8 579.0 L1203.4 580.9 L1204.0 582.8 L1204.6 584.6 L1205.2 586.5 L1205.8 588.4 L1206.4 590.2 L1207.1 592.1 L1207.7 594.0 L1208.3 595.8 L1208.9 597.7 L1209.5 599.6 L1210.1 601.4 L1210.7 603.3 L1211.3 605.2 L1211.9 607.1 L1212.5 608.9 L1213.1 610.8 L1213.7 612.7 L1214.3 614.5 L1214.9 616.4 L1215.5 618.3 L1216.1 620.1 L1216.8 622.0 L1217.4 623.9 L1218.0 625.7 L1218.6 627.6 L1219.2 629.5 L1219.8 631.3 L1220.4 633.2 L1221.0 635.1 L1221.6 637.0 L1222.2 638.8 L1222.8 640.7 L1223.4 642.6 L1224.1 644.4 L1224.7 646.3 L1225.3 648.2 L1225.9 650.0 L1226.5 651.9 L1227.1 653.8 L1227.8 655.6 L1228.4 657.5 L1229.0 659.4 L1229.6 661.3 L1230.2 663.1 L1230.9 665.0 L1231.5 666.9 L1232.1 668.7 L1232.7 670.6 L1233.4 672.5 L1234.0 674.3 L1234.6 676.2 L1235.3 678.1 L1235.9 679.9 L1236.5 681.8 L1237.2 683.7 L1237.8 685.5 L1238.4 687.4 L1239.1 689.2 L1239.7 691.1 L1240.4 693.0 L1241.0 694.8 L1241.7 696.7 L1242.3 698.6 L1243.0 700.4 L1243.6 702.3 L1244.3 704.1 L1244.9 706.0 L1245.6 707.9 L1246.3 709.7 L1246.9 711.6 L1247.6 713.4 L1248.3 715.3 L1249.0 717.1 L1249.7 719.0 L1250.4 720.8 L1251.1 722.7 L1251.8 724.5 L1252.5 726.3 L1253.2 728.2 L1253.9 730.0 L1254.7 731.8 L1255.4 733.6 L1256.1 735.5 L1256.9 737.3 L1257.6 739.1 L1258.4 740.9 L1259.2 742.7 L1260.0 744.5 L1260.8 746.3 L1261.6 748.1 L1262.4 749.9 L1263.2 751.7 L1264.0 753.4 L1264.8 755.2 L1265.7 757.0 L1266.5 758.7 L1267.4 760.5 L1268.3 762.2 L1269.2 764.0 L1270.1 765.7 L1271.0 767.4 L1271.9 769.2 L1272.8 770.9 L1273.8 772.6 L1274.7 774.3 L1275.7 776.0 L1276.7 777.7 L1277.7 779.4 L1278.7 781.0 L1279.7 782.7 L1280.8 784.4 L1281.8 786.0 L1282.9 787.7 L1283.9 789.3 L1285.0 790.9 L1286.1 792.5 L1287.3 794.1 L1288.4 795.7 L1289.5 797.3 L1290.7 798.9 L1291.9 800.5 L1293.1 802.1 L1294.2 803.6 L1295.5 805.2 L1296.7 806.7 L1297.9 808.3 L1299.1 809.8 L1300.4 811.3 L1301.7 812.8 L1302.9 814.3 L1304.2 815.8 L1305.5 817.3 L1306.8 818.8 L1308.2 820.3 L1309.5 821.7 L1310.8 823.2 L1312.2 824.6 L1313.5 826.1 L1314.9 827.5 L1316.3 828.9 L1317.7 830.4 L1319.0 831.8 L1320.4 833.2 L1321.9 834.6 L1323.3 835.9 L1324.7 837.3 L1326.1 838.7 L1327.6 840.0 L1329.0 841.4 L1330.5 842.7 L1331.9 844.0 L1333.4 845.4 L1334.9 846.7 L1336.4 848.0 L1337.8 849.3 L1339.3 850.6 L1340.8 851.9 L1342.3 853.1 L1343.8 854.4 L1345.4 855.7 L1346.9 856.9 L1348.4 858.1 L1349.9 859.4 L1351.5 860.6 L1353.0 861.8 L1354.6 863.0 L1356.1 864.2 L1357.7 865.4 L1359.2 866.6 L1360.8 867.8 L1362.4 869.0 L1364.0 870.1 L1365.5 871.3 L1367.1 872.4 L1368.7 873.6 L1370.3 874.7 L1371.9 875.8 L1373.5 876.9 L1375.2 878.0 L1376.8 879.1 L1378.4 880.2 L1380.0 881.3 L1381.7 882.4 L1383.3 883.5 L1384.9 884.5 L1386.6 885.6 L1388.2 886.6 L1389.9 887.7 L1391.5 888.7 L1393.2 889.7 L1394.9 890.8 L1396.6 891.8 L1398.2 892.8 L1399.9 893.8 L1401.6 894.8 L1403.3 895.7 L1405.0 896.7 L1406.7 897.7 L1408.4 898.7 L1410.1 899.6 L1411.8 900.6 L1413.5 901.5 L1415.2 902.5 L1417.0 903.4 L1418.7 904.3 L1420.4 905.2 L1422.1 906.1 L1423.9 907.0 L1425.6 907.9 L1427.4 908.8 L1429.1 909.7 L1430.9 910.6 L1432.6 911.5 L1434.4 912.3 L1436.1 913.2 L1437.9 914.1 L1439.7 914.9 L1441.4 915.8 L1443.2 916.6 L1445.0 917.4 L1446.8 918.2 L1448.6 919.1 L1450.3 919.9 L1452.1 920.7 L1453.9 921.5 L1455.7 922.3 L1457.5 923.1 L1459.3 923.8 L1461.1 924.6 L1462.9 925.4 L1464.8 926.2 L1466.6 926.9 L1468.4 927.7 L1470.2 928.4 L1472.0 929.2 L1473.9 929.9 L1475.7 930.6 L1477.5 931.4 L1479.3 932.1 L1481.2 932.8 L1483.0 933.5 L1484.9 934.2 L1486.7 934.9 L1488.5 935.6 L1490.4 936.3 L1492.2 937.0 L1494.1 937.7 L1495.9 938.4 L1497.8 939.0 L1499.6 939.7 L1501.5 940.4 L1503.4 941.0 L1505.2 941.7 L1507.1 942.3 L1509.0 943.0 L1510.8 943.6 L1512.7 944.2 L1514.6 944.8 L1516.4 945.5 L1518.3 946.1 L1520.2 946.7 L1522.1 947.3 L1523.9 947.9 L1525.8 948.5 L1527.7 949.1 L1529.6 949.7 L1531.5 950.3 L1533.4 950.9 L1535.3 951.4 L1537.1 952.0 L1539.0 952.6 L1540.9 953.2 L1542.8 953.7 L1544.7 954.3 L1546.6 954.8 L1548.5 955.4 L1550.4 955.9 L1552.3 956.5 L1554.2 957.0 L1556.1 957.5 L1558.0 958.1 L1559.9 958.6 L1561.8 959.1 L1563.7 959.6 L1565.6 960.1 L1567.5 960.7 L1569.4 961.2 L1571.3 961.7 L1573.2 962.2 L1575.1 962.7 L1577.0 963.2 L1578.9 963.6 L1580.8 964.1 L1582.7 964.6 L1584.7 965.1 L1586.6 965.6 L1588.5 966.0 L1590.4 966.5 L1592.3 967.0 L1594.2 967.4 L1596.1 967.9 L1598.0 968.4 L1599.9 968.8 L1601.8 969.3 L1603.7 969.7 L1605.6 970.2 L1607.5 970.6 L1609.5 971.0 L1611.4 971.5 L1613.3 971.9 L1615.2 972.3 L1617.1 972.8 L1619.0 973.2 L1620.9 973.6 L1622.8 974.0 L1624.7 974.5 L1626.6 974.9 L1628.5 975.3 L1630.4 975.7 L1632.3 976.1 L1634.2 976.5"/>
<path stroke-width="3.3" stroke-dasharray="5.34 5.63 5.4 5.63 5.4 5.63 5.4 5.63 5.4 5.63 5.41 5.63 5.41 5.63 5.41 5.63 5.41 5.63 5.41 5.64 5.41 5.64 5.41 5.64 5.41 5.64 5.42 5.64 5.42 5.64 5.42 5.65 5.42 5.65 5.42 5.65 5.42 5.65 5.42 5.65 5.43 5.65 5.43 5.65 5.43 5.66 5.43 5.66 5.43 5.66 5.43 5.66 5.43 5.66 5.43 5.66 5.43 5.66 5.43 5.66 5.44 5.66 5.44 5.66 5.44 5.66 5.44 5.66 5.44 5.66 5.44 5.66 5.44 5.66 5.43 5.66 5.43 5.66 5.43 5.66 5.43 5.66 5.43 5.65 5.43 5.65 5.43 5.65 5.42 5.65 5.42 5.65 5.42 5.64 5.42 5.64 5.41 5.64 5.41 5.64 5.41 5.64 5.41 5.63 5.41 5.63 5.41 5.63 5.41 5.63 5.4 5.63 5.4 5.63 5.4 5.63 5.4 5.63 5.4 5.63 5.4 5.63 5.4 5.63 5.4 5.63 5.4 5.63 5.4 5.63 5.4 5.63 5.4 5.63 5.4 5.63 5.4 5.63 5.4 5.63 5.4 5.63 5.41 5.63 5.41 5.63 5.41 5.64 5.41 5.64 5.42 5.65 5.43 6.25 5.46 6.28 5.49 6.33 5.53 6.39 5.6 4.85 5.67 4.92 5.75 4.99 5.84 5.07 5.93 6.48 6.02 6.57 6.1 6.65 6.16 6.72 6.22 6.77 6.27 6.82 6.31 7.09 6.34 7.12 6.36 7.14 6.37 7.15 6.38 7.16 6.38 6.72 6.39 6.72 6.39 6.72 6.39 6.72 6.38 6.72 6.38 7.08 6.37 7.07 6.36 7.05 6.34 7.03 6.32 7 6.29 7.16 6.25 7.12 6.21 7.07 6.17 7.01 6.11 5.36 6.06 5.31 6 5.26 5.94 5.21 5.88 5.16 5.83 5.12 5.79 5.71 5.75 5.68 5.72 5.65 5.7 5.63 5.69 5.64 5.68 5.63 5.67 5.62 5.67 4.97 5.67 4.98 5.68 5.48 5.69 5.49 5.71 4.7 5.73 4.72 5.76 4.73 5.78 5.79 5.8 5.82 5.83 5.84 5.85 5.86 5.87 6.43 5.89 6.45 5.91 6.47 5.93 6.49 5.95 5.88 5.96 5.89 5.97 5.9 5.98 5.91 5.99 5.92 5.99 7.74 5.98 7.73 5.97 7.7 5.94 7.67 5.92 4.24 5.91 4.23 5.9 4.23 5.9 6.16 5.92 6.18 0.08 50" d="M215.0 211.3 L217.0 211.4 L218.9 211.4 L220.9 211.5 L222.8 211.6 L224.8 211.6 L226.7 211.7 L228.7 211.8 L230.6 211.9 L232.6 212.0 L234.5 212.1 L236.5 212.2 L238.4 212.3 L240.4 212.4 L242.3 212.5 L244.3 212.6 L246.2 212.7 L248.2 212.8 L250.1 212.9 L252.1 213.0 L254.0 213.1 L256.0 213.3 L257.9 213.4 L259.8 213.5 L261.8 213.7 L263.7 213.8 L265.7 213.9 L267.6 214.1 L269.6 214.2 L271.5 214.4 L273.4 214.5 L275.4 214.7 L277.3 214.8 L279.3 215.0 L281.2 215.1 L283.1 215.3 L285.1 215.5 L287.0 215.6 L288.9 215.8 L290.9 216.0 L292.8 216.1 L294.7 216.3 L296.7 216.5 L298.6 216.7 L300.5 216.9 L302.5 217.1 L304.4 217.2 L306.3 217.4 L308.3 217.6 L310.2 217.8 L312.1 218.0 L314.1 218.2 L316.0 218.4 L317.9 218.6 L319.8 218.9 L321.8 219.1 L323.7 219.3 L325.6 219.5 L327.6 219.7 L329.5 219.9 L331.4 220.2 L333.3 220.4 L335.3 220.6 L337.2 220.9 L339.1 221.1 L341.0 221.3 L343.0 221.6 L344.9 221.8 L346.8 222.0 L348.7 222.3 L350.7 222.5 L352.6 222.8 L354.5 223.0 L356.4 223.3 L358.3 223.5 L360.3 223.8 L362.2 224.1 L364.1 224.3 L366.0 224.6 L367.9 224.8 L369.9 225.1 L371.8 225.4 L373.7 225.6 L375.6 225.9 L377.5 226.2 L379.5 226.5 L381.4 226.8 L383.3 227.0 L385.2 227.3 L387.1 227.6 L389.0 227.9 L391.0 228.2 L392.9 228.5 L394.8 228.8 L396.7 229.0 L398.6 229.3 L400.5 229.6 L402.5 229.9 L404.4 230.2 L406.3 230.5 L408.2 230.8 L410.1 231.2 L412.0 231.5 L413.9 231.8 L415.9 232.1 L417.8 232.4 L419.7 232.7 L421.6 233.0 L423.5 233.3 L425.4 233.7 L427.3 234.0 L429.2 234.3 L431.2 234.6 L433.1 234.9 L435.0 235.3 L436.9 235.6 L438.8 235.9 L440.7 236.3 L442.6 236.6 L444.5 236.9 L446.4 237.3 L448.4 237.6 L450.3 237.9 L452.2 238.3 L454.1 238.6 L456.0 238.9 L457.9 239.3 L459.8 239.6 L461.7 240.0 L463.6 240.3 L465.5 240.7 L467.4 241.0 L469.4 241.4 L471.3 241.7 L473.2 242.1 L475.1 242.4 L477.0 242.8 L478.9 243.1 L480.8 243.5 L482.7 243.9 L484.6 244.2 L486.5 244.6 L488.4 244.9 L490.3 245.3 L492.3 245.7 L494.2 246.0 L496.1 246.4 L498.0 246.8 L499.9 247.1 L501.8 247.5 L503.7 247.9 L505.6 248.2 L507.5 248.6 L509.4 249.0 L511.3 249.3 L513.2 249.7 L515.1 250.1 L517.1 250.5 L519.0 250.8 L520.9 251.2 L522.8 251.6 L524.7 252.0 L526.6 252.4 L528.5 252.7 L530.4 253.1 L532.3 253.5 L534.2 253.9 L536.1 254.3 L538.0 254.7 L539.9 255.0 L541.9 255.4 L543.8 255.8 L545.7 256.2 L547.6 256.6 L549.5 257.0 L551.4 257.4 L553.3 257.7 L555.2 258.1 L557.1 258.5 L559.0 258.9 L560.9 259.3 L562.8 259.7 L564.8 260.1 L566.7 260.5 L568.6 260.9 L570.5 261.3 L572.4 261.6 L574.3 262.0 L576.2 262.4 L578.1 262.8 L580.0 263.2 L581.9 263.6 L583.8 264.0 L585.8 264.4 L587.7 264.8 L589.6 265.2 L591.5 265.6 L593.4 265.9 L595.3 266.3 L597.2 266.7 L599.1 267.1 L601.0 267.5 L603.0 267.9 L604.9 268.3 L606.8 268.7 L608.7 269.1 L610.6 269.4 L612.5 269.8 L614.4 270.2 L616.3 270.6 L618.2 271.0 L620.2 271.4 L622.1 271.7 L624.0 272.1 L625.9 272.5 L627.8 272.9 L629.7 273.3 L631.6 273.6 L633.5 274.0 L635.4 274.4 L637.4 274.8 L639.3 275.1 L641.2 275.5 L643.1 275.9 L645.0 276.2 L646.9 276.6 L648.8 277.0 L650.8 277.3 L652.7 277.7 L654.6 278.0 L656.5 278.4 L658.4 278.8 L660.3 279.1 L662.2 279.5 L664.2 279.8 L666.1 280.2 L668.0 280.5 L669.9 280.9 L671.8 281.2 L673.7 281.6 L675.6 281.9 L677.6 282.2 L679.5 282.6 L681.4 282.9 L683.3 283.2 L685.2 283.6 L687.1 283.9 L689.1 284.2 L691.0 284.5 L692.9 284.9 L694.8 285.2 L696.7 285.5 L698.6 285.8 L700.6 286.1 L702.5 286.4 L704.4 286.7 L706.3 287.1 L708.2 287.4 L710.2 287.7 L712.1 287.9 L714.0 288.2 L715.9 288.5 L717.8 288.8 L719.7 289.1 L721.7 289.4 L723.6 289.7 L725.5 289.9 L727.4 290.2 L729.3 290.5 L731.3 290.7 L733.2 291.0 L735.1 291.3 L737.0 291.5 L739.0 291.8 L740.9 292.0 L742.8 292.3 L744.7 292.5 L746.6 292.8 L748.6 293.0 L750.5 293.2 L752.4 293.5 L754.3 293.7 L756.3 293.9 L758.2 294.1 L760.1 294.4 L762.0 294.6 L764.0 294.8 L765.9 295.0 L767.8 295.2 L769.7 295.4 L771.6 295.6 L773.6 295.8 L775.5 296.0 L777.4 296.2 L779.4 296.4 L781.3 296.6 L783.2 296.7 L785.1 296.9 L787.1 297.1 L789.0 297.3 L790.9 297.5 L792.8 297.6 L794.8 297.8 L796.7 298.0 L798.6 298.1 L800.6 298.3 L802.5 298.5 L804.4 298.6 L806.3 298.8 L808.3 298.9 L810.2 299.1 L812.1 299.2 L814.1 299.4 L816.0 299.5 L817.9 299.7 L819.9 299.8 L821.8 299.9 L823.7 300.1 L825.6 300.2 L827.6 300.4 L829.5 300.5 L831.4 300.6 L833.4 300.8 L835.3 300.9 L837.2 301.0 L839.2 301.1 L841.1 301.3 L843.0 301.4 L845.0 301.5 L846.9 301.6 L848.8 301.8 L850.8 301.9 L852.7 302.0 L854.7 302.1 L856.6 302.2 L858.5 302.4 L860.5 302.5 L862.4 302.6 L864.3 302.7 L866.3 302.8 L868.2 302.9 L870.1 303.0 L872.1 303.1 L874.0 303.3 L876.0 303.4 L877.9 303.5 L879.8 303.6 L881.8 303.7 L883.7 303.8 L885.7 303.9 L887.6 304.0 L889.5 304.1 L891.5 304.2 L893.4 304.3 L895.4 304.4 L897.3 304.5 L899.2 304.6 L901.2 304.8 L903.1 304.9 L905.1 305.0 L907.0 305.1 L909.0 305.2 L910.9 305.3 L912.9 305.4 L914.8 305.5 L916.7 305.6 L918.7 305.7 L920.6 305.8 L922.6 305.9 L924.5 306.0 L926.5 306.1 L928.4 306.3 L930.4 306.4 L932.3 306.5 L934.3 306.6 L936.2 306.7 L938.2 306.8 L940.1 306.9 L942.1 307.0 L944.0 307.1 L946.0 307.3 L947.9 307.4 L949.9 307.5 L951.8 307.6 L953.8 307.7 L955.7 307.9 L957.7 308.0 L959.6 308.1 L961.6 308.2 L963.5 308.4 L965.5 308.5 L967.4 308.6 L969.4 308.7 L971.3 308.9 L973.3 309.0 L975.2 309.1 L977.2 309.3 L979.1 309.4 L981.1 309.6 L983.1 309.7 L985.0 309.8 L987.0 310.0 L988.9 310.1 L990.9 310.3 L992.8 310.4 L994.8 310.6 L996.8 310.7 L998.7 310.9 L1000.7 311.1 L1002.6 311.2 L1004.6 311.4 L1006.6 311.6 L1008.5 311.7 L1010.5 311.9 L1012.4 312.1 L1014.4 312.3 L1016.3 312.5 L1018.3 312.7 L1020.2 312.9 L1022.2 313.1 L1024.1 313.3 L1026.1 313.5 L1028.0 313.8 L1030.0 314.0 L1031.9 314.3 L1033.8 314.5 L1035.8 314.8 L1037.7 315.1 L1039.6 315.4 L1041.5 315.7 L1043.4 316.0 L1045.4 316.4 L1047.3 316.7 L1049.2 317.1 L1051.1 317.5 L1052.9 317.9 L1054.8 318.3 L1056.7 318.7 L1058.6 319.1 L1060.4 319.6 L1062.3 320.1 L1064.2 320.5 L1066.0 321.1 L1067.8 321.6 L1069.7 322.1 L1071.5 322.7 L1073.3 323.3 L1075.1 323.9 L1076.9 324.5 L1078.7 325.2 L1080.5 325.8 L1082.3 326.5 L1084.0 327.2 L1085.8 328.0 L1087.5 328.7 L1089.3 329.5 L1091.0 330.3 L1092.7 331.2 L1094.4 332.0 L1096.1 332.9 L1097.8 333.8 L1099.5 334.8 L1101.1 335.7 L1102.8 336.7 L1104.4 337.7 L1106.1 338.8 L1107.7 339.8 L1109.3 340.9 L1110.8 342.0 L1112.4 343.2 L1114.0 344.3 L1115.5 345.5 L1117.0 346.7 L1118.5 347.9 L1120.0 349.2 L1121.5 350.4 L1122.9 351.7 L1124.3 353.1 L1125.7 354.4 L1127.1 355.8 L1128.5 357.1 L1129.8 358.5 L1131.2 359.9 L1132.5 361.4 L1133.8 362.8 L1135.1 364.3 L1136.4 365.8 L1137.6 367.3 L1138.8 368.8 L1140.1 370.3 L1141.3 371.8 L1142.5 373.4 L1143.6 374.9 L1144.8 376.5 L1145.9 378.1 L1147.1 379.7 L1148.2 381.3 L1149.3 382.9 L1150.4 384.5 L1151.5 386.1 L1152.5 387.8 L1153.6 389.4 L1154.6 391.1 L1155.7 392.7 L1156.7 394.4 L1157.7 396.1 L1158.7 397.8 L1159.7 399.5 L1160.7 401.2 L1161.6 402.9 L1162.6 404.6 L1163.5 406.3 L1164.4 408.0 L1165.4 409.7 L1166.3 411.5 L1167.2 413.2 L1168.1 415.0 L1169.0 416.7 L1169.8 418.5 L1170.7 420.2 L1171.6 422.0 L1172.4 423.8 L1173.3 425.5 L1174.1 427.3 L1174.9 429.1 L1175.8 430.8 L1176.6 432.6 L1177.4 434.4 L1178.2 436.2 L1179.0 438.0 L1179.8 439.8 L1180.6 441.6 L1181.4 443.3 L1182.2 445.1 L1182.9 446.9 L1183.7 448.7 L1184.5 450.5 L1185.2 452.3 L1186.0 454.1 L1186.7 455.9 L1187.5 457.7 L1188.2 459.5 L1189.0 461.3 L1189.7 463.0 L1190.5 464.8 L1191.2 466.6 L1191.9 468.4 L1192.7 470.2 L1193.4 472.0 L1194.1 473.7 L1194.9 475.5 L1195.6 477.3 L1196.3 479.1 L1197.0 480.9 L1197.8 482.6 L1198.5 484.4 L1199.2 486.2 L1199.9 488.0 L1200.6 489.7 L1201.3 491.5 L1202.1 493.3 L1202.8 495.1 L1203.5 496.9 L1204.2 498.6 L1204.9 500.4 L1205.6 502.2 L1206.3 504.0 L1207.0 505.7 L1207.8 507.5 L1208.5 509.3 L1209.2 511.1 L1209.9 512.9 L1210.6 514.7 L1211.3 516.4 L1212.0 518.2 L1212.7 520.0 L1213.5 521.8 L1214.2 523.6 L1214.9 525.4 L1215.6 527.2 L1216.3 529.0 L1217.0 530.8 L1217.8 532.6 L1218.5 534.4 L1219.2 536.2 L1220.0 538.0 L1220.7 539.8 L1221.4 541.6 L1222.1 543.4 L1222.9 545.2 L1223.6 547.1 L1224.4 548.9 L1225.1 550.7 L1225.9 552.5 L1226.6 554.3 L1227.4 556.1 L1228.1 557.9 L1228.9 559.7 L1229.6 561.6 L1230.4 563.4 L1231.2 565.2 L1232.0 567.0 L1232.7 568.8 L1233.5 570.6 L1234.3 572.4 L1235.1 574.2 L1235.9 576.0 L1236.7 577.8 L1237.5 579.6 L1238.3 581.4 L1239.1 583.2 L1239.9 585.0 L1240.8 586.8 L1241.6 588.6 L1242.4 590.4 L1243.3 592.2 L1244.1 593.9 L1245.0 595.7 L1245.8 597.5 L1246.7 599.2 L1247.6 601.0 L1248.4 602.8 L1249.3 604.5 L1250.2 606.3 L1251.1 608.0 L1252.0 609.8 L1252.9 611.5 L1253.8 613.2 L1254.8 614.9 L1255.7 616.7 L1256.6 618.4 L1257.6 620.1 L1258.5 621.8 L1259.5 623.5 L1260.5 625.2 L1261.4 626.9 L1262.4 628.5 L1263.4 630.2 L1264.4 631.9 L1265.4 633.5 L1266.5 635.2 L1267.5 636.8 L1268.5 638.5 L1269.6 640.1 L1270.6 641.7 L1271.7 643.3 L1272.8 644.9 L1273.9 646.5 L1275.0 648.1 L1276.1 649.7 L1277.2 651.3 L1278.3 652.8 L1279.4 654.4 L1280.6 655.9 L1281.7 657.5 L1282.9 659.0 L1284.1 660.5 L1285.2 662.0 L1286.4 663.5 L1287.7 665.0 L1288.9 666.5 L1290.1 667.9 L1291.3 669.4 L1292.6 670.8 L1293.9 672.3 L1295.1 673.7 L1296.4 675.1 L1297.7 676.5 L1299.0 677.9 L1300.4 679.3 L1301.7 680.6 L1303.0 682.0 L1304.4 683.3 L1305.8 684.7 L1307.2 686.0 L1308.6 687.3 L1310.0 688.6 L1311.4 689.9 L1312.8 691.1 L1314.3 692.4 L1315.7 693.7 L1317.2 694.9 L1318.6 696.2 L1320.1 697.4 L1321.6 698.6 L1323.1 699.8 L1324.6 701.0 L1326.1 702.2 L1327.6 703.4 L1329.2 704.6 L1330.7 705.7 L1332.2 706.9 L1333.8 708.1 L1335.4 709.2 L1336.9 710.4 L1338.5 711.5 L1340.1 712.6 L1341.7 713.8 L1343.3 714.9 L1344.9 716.0 L1346.5 717.1 L1348.1 718.2 L1349.7 719.3 L1351.3 720.4 L1352.9 721.5 L1354.6 722.6 L1356.2 723.6 L1357.8 724.7 L1359.5 725.8 L1361.1 726.9 L1362.8 727.9 L1364.4 729.0 L1366.1 730.0 L1367.8 731.1 L1369.4 732.2 L1371.1 733.2 L1372.7 734.3 L1374.4 735.3 L1376.1 736.4 L1377.7 737.4 L1379.4 738.5 L1381.1 739.5 L1382.8 740.5 L1384.4 741.6 L1386.1 742.6 L1387.8 743.7 L1389.5 744.7 L1391.1 745.8 L1392.8 746.8 L1394.5 747.8 L1396.1 748.9 L1397.8 749.9 L1399.5 751.0 L1401.1 752.0 L1402.8 753.1 L1404.5 754.2 L1406.1 755.2 L1407.8 756.3 L1409.4 757.3 L1411.1 758.4 L1412.7 759.5 L1414.4 760.6 L1416.0 761.6 L1417.6 762.7 L1419.3 763.8 L1420.9 764.9 L1422.5 766.0 L1424.1 767.1 L1425.7 768.2 L1427.4 769.3 L1429.0 770.4 L1430.5 771.5 L1432.1 772.7 L1433.7 773.8 L1435.3 774.9 L1436.9 776.1 L1438.4 777.2 L1440.0 778.4 L1441.5 779.6 L1443.1 780.7 L1444.6 781.9 L1446.2 783.1 L1447.7 784.3 L1449.2 785.4 L1450.7 786.6 L1452.3 787.8 L1453.8 789.0 L1455.3 790.2 L1456.8 791.5 L1458.3 792.7 L1459.8 793.9 L1461.3 795.1 L1462.7 796.4 L1464.2 797.6 L1465.7 798.9 L1467.1 800.1 L1468.6 801.4 L1470.1 802.6 L1471.5 803.9 L1473.0 805.2 L1474.4 806.4 L1475.9 807.7 L1477.3 809.0 L1478.7 810.3 L1480.1 811.6 L1481.6 812.9 L1483.0 814.2 L1484.4 815.5 L1485.8 816.8 L1487.2 818.1 L1488.6 819.4 L1490.0 820.7 L1491.4 822.1 L1492.8 823.4 L1494.2 824.7 L1495.6 826.1 L1497.0 827.4 L1498.3 828.8 L1499.7 830.1 L1501.1 831.5 L1502.5 832.8 L1503.8 834.2 L1505.2 835.5 L1506.5 836.9 L1507.9 838.3 L1509.3 839.7 L1510.6 841.0 L1512.0 842.4 L1513.3 843.8 L1514.6 845.2 L1516.0 846.6 L1517.3 848.0 L1518.6 849.4 L1520.0 850.8 L1521.3 852.2 L1522.6 853.6 L1523.9 855.0 L1525.3 856.5 L1526.6 857.9 L1527.9 859.3 L1529.2 860.7 L1530.5 862.2 L1531.8 863.6 L1533.1 865.0 L1534.4 866.5 L1535.7 867.9 L1537.1 869.4 L1538.4 870.8 L1539.6 872.3 L1540.9 873.7 L1542.2 875.2 L1543.5 876.6 L1544.8 878.1 L1546.1 879.5 L1547.4 881.0 L1548.7 882.5 L1550.0 883.9 L1551.3 885.4 L1552.5 886.9 L1553.8 888.4 L1555.1 889.8 L1556.4 891.3 L1557.7 892.8 L1559.0 894.3 L1560.3 895.7 L1561.5 897.2 L1562.8 898.7 L1564.1 900.1 L1565.4 901.6 L1566.7 903.1 L1568.0 904.6 L1569.3 906.0 L1570.6 907.5 L1571.9 909.0 L1573.2 910.4 L1574.5 911.9 L1575.8 913.3 L1577.1 914.8 L1578.4 916.2 L1579.7 917.7 L1581.0 919.1 L1582.3 920.6 L1583.6 922.0 L1584.9 923.4 L1586.3 924.8 L1587.6 926.3 L1588.9 927.7 L1590.3 929.1 L1591.6 930.5 L1593.0 931.9 L1594.3 933.3 L1595.7 934.6 L1597.0 936.0 L1598.4 937.4 L1599.8 938.8 L1601.1 940.1 L1602.5 941.5 L1603.9 942.9 L1605.2 944.2 L1606.6 945.6 L1608.0 947.0 L1609.4 948.3 L1610.7 949.7 L1612.1 951.0 L1613.5 952.4 L1614.9 953.7 L1616.2 955.1 L1617.6 956.5 L1619.0 957.8 L1620.4 959.2 L1621.7 960.5 L1623.1 961.9 L1624.5 963.3 L1625.9 964.7 L1627.2 966.0 L1628.6 967.4 L1629.9 968.8 L1631.3 970.2 L1632.7 971.6 L1634.0 973.0"/>
<path stroke-width="3.3" stroke-dasharray="2.21 6.76 13.06 6.76 3.15 6.76 13.07 6.76 3.16 6.76 13.07 6.76 3.16 6.76 13.08 6.77 3.16 6.77 13.09 6.77 3.16 6.77 13.1 6.78 3.16 6.78 13.11 6.79 3.17 6.79 13.13 6.8 3.17 6.8 13.15 6.8 3.18 6.81 13.16 6.81 3.18 6.81 13.17 6.81 3.18 6.81 13.17 6.81 3.18 6.81 13.16 6.8 3.17 6.8 13.14 6.79 3.17 6.79 13.13 6.79 3.17 6.78 13.11 6.78 3.16 6.78 13.1 6.77 3.16 6.77 13.08 6.77 3.16 6.76 13.07 6.76 3.15 6.76 13.06 6.76 3.15 6.75 13.06 6.75 3.15 6.75 13.05 6.75 3.15 6.75 13.05 6.75 3.15 6.75 13.05 6.75 3.15 6.75 13.05 6.75 3.15 6.75 13.06 6.76 3.16 6.76 13.09 6.77 3.16 6.78 13.13 6.8 3.18 6.82 13.23 6.87 3.22 6.91 13.47 7.04 3.3 7.13 14 8.76 3.47 7.5 14.69 7.48 3.6 7.75 15.1 8.11 3.67 7.88 15.28 9.13 3.71 7.95 15.41 8.57 3.73 8 15.49 8.01 3.75 8.03 15.53 8.03 3.75 8.04 15.53 8.02 3.75 8.02 15.5 7.61 3.73 7.99 15.42 8.54 3.7 7.92 15.25 9.65 3.65 7.79 14.96 3.57 3.58 7.64 14.63 3.49 3.5 7.47 14.33 4.97 3.43 7.32 14.08 5.66 3.38 7.22 13.9 4.78 3.34 7.14 13.76 6.46 3.31 7.08 13.67 5.14 3.29 7.05 13.61 5.77 3.28 7.03 13.59 5.92 3.28 7.03 13.59 6.07 3.28 7.04 13.62 6.08 3.29 7.05 13.64 6.23 3.29 7.05 13.63 5.01 3.29 7.05 13.61 6.8 3.28 7.03 13.57 5.2 3.27 7 1.45 50" d="M215.0 211.3 L216.9 211.5 L218.9 211.6 L220.8 211.8 L222.7 211.9 L224.6 212.1 L226.6 212.2 L228.5 212.4 L230.4 212.6 L232.4 212.7 L234.3 212.9 L236.2 213.0 L238.1 213.2 L240.1 213.4 L242.0 213.5 L243.9 213.7 L245.8 213.9 L247.8 214.0 L249.7 214.2 L251.6 214.4 L253.6 214.6 L255.5 214.7 L257.4 214.9 L259.3 215.1 L261.3 215.3 L263.2 215.5 L265.1 215.6 L267.1 215.8 L269.0 216.0 L270.9 216.2 L272.8 216.4 L274.8 216.6 L276.7 216.8 L278.6 217.0 L280.5 217.2 L282.5 217.4 L284.4 217.6 L286.3 217.8 L288.2 218.0 L290.2 218.2 L292.1 218.4 L294.0 218.6 L295.9 218.8 L297.9 219.0 L299.8 219.2 L301.7 219.4 L303.6 219.6 L305.6 219.8 L307.5 220.1 L309.4 220.3 L311.3 220.5 L313.3 220.7 L315.2 221.0 L317.1 221.2 L319.0 221.4 L321.0 221.6 L322.9 221.9 L324.8 222.1 L326.7 222.4 L328.6 222.6 L330.6 222.8 L332.5 223.1 L334.4 223.3 L336.3 223.6 L338.2 223.8 L340.2 224.1 L342.1 224.3 L344.0 224.6 L345.9 224.8 L347.8 225.1 L349.8 225.4 L351.7 225.6 L353.6 225.9 L355.5 226.1 L357.4 226.4 L359.3 226.7 L361.3 227.0 L363.2 227.2 L365.1 227.5 L367.0 227.8 L368.9 228.1 L370.8 228.4 L372.7 228.7 L374.7 228.9 L376.6 229.2 L378.5 229.5 L380.4 229.8 L382.3 230.1 L384.2 230.4 L386.1 230.7 L388.0 231.0 L389.9 231.4 L391.9 231.7 L393.8 232.0 L395.7 232.3 L397.6 232.6 L399.5 232.9 L401.4 233.3 L403.3 233.6 L405.2 233.9 L407.1 234.3 L409.0 234.6 L410.9 234.9 L412.8 235.3 L414.7 235.6 L416.6 236.0 L418.5 236.3 L420.4 236.7 L422.3 237.0 L424.2 237.4 L426.1 237.7 L428.0 238.1 L429.9 238.4 L431.8 238.8 L433.7 239.2 L435.6 239.6 L437.5 239.9 L439.4 240.3 L441.3 240.7 L443.2 241.1 L445.1 241.5 L447.0 241.9 L448.9 242.2 L450.8 242.6 L452.7 243.0 L454.6 243.4 L456.5 243.8 L458.3 244.3 L460.2 244.7 L462.1 245.1 L464.0 245.5 L465.9 245.9 L467.8 246.3 L469.7 246.7 L471.6 247.2 L473.5 247.6 L475.3 248.0 L477.2 248.4 L479.1 248.9 L481.0 249.3 L482.9 249.7 L484.8 250.2 L486.6 250.6 L488.5 251.0 L490.4 251.5 L492.3 251.9 L494.2 252.3 L496.1 252.8 L497.9 253.2 L499.8 253.7 L501.7 254.1 L503.6 254.6 L505.5 255.0 L507.4 255.5 L509.2 255.9 L511.1 256.4 L513.0 256.8 L514.9 257.3 L516.8 257.7 L518.6 258.2 L520.5 258.6 L522.4 259.1 L524.3 259.5 L526.2 260.0 L528.1 260.4 L529.9 260.9 L531.8 261.3 L533.7 261.8 L535.6 262.2 L537.5 262.7 L539.3 263.1 L541.2 263.6 L543.1 264.0 L545.0 264.5 L546.9 264.9 L548.8 265.4 L550.6 265.8 L552.5 266.3 L554.4 266.7 L556.3 267.2 L558.2 267.6 L560.0 268.1 L561.9 268.5 L563.8 268.9 L565.7 269.4 L567.6 269.8 L569.5 270.3 L571.4 270.7 L573.2 271.1 L575.1 271.6 L577.0 272.0 L578.9 272.4 L580.8 272.9 L582.7 273.3 L584.6 273.7 L586.5 274.1 L588.3 274.6 L590.2 275.0 L592.1 275.4 L594.0 275.8 L595.9 276.2 L597.8 276.7 L599.7 277.1 L601.6 277.5 L603.5 277.9 L605.4 278.3 L607.3 278.7 L609.2 279.1 L611.1 279.5 L612.9 279.9 L614.8 280.3 L616.7 280.7 L618.6 281.0 L620.5 281.4 L622.4 281.8 L624.3 282.2 L626.2 282.6 L628.1 283.0 L630.0 283.3 L631.9 283.7 L633.8 284.1 L635.7 284.4 L637.6 284.8 L639.5 285.2 L641.4 285.5 L643.3 285.9 L645.2 286.2 L647.1 286.6 L649.0 287.0 L651.0 287.3 L652.9 287.6 L654.8 288.0 L656.7 288.3 L658.6 288.7 L660.5 289.0 L662.4 289.3 L664.3 289.7 L666.2 290.0 L668.1 290.3 L670.0 290.7 L671.9 291.0 L673.8 291.3 L675.7 291.6 L677.7 291.9 L679.6 292.3 L681.5 292.6 L683.4 292.9 L685.3 293.2 L687.2 293.5 L689.1 293.8 L691.0 294.1 L693.0 294.4 L694.9 294.7 L696.8 295.0 L698.7 295.2 L700.6 295.5 L702.5 295.8 L704.4 296.1 L706.4 296.4 L708.3 296.6 L710.2 296.9 L712.1 297.2 L714.0 297.4 L715.9 297.7 L717.9 298.0 L719.8 298.2 L721.7 298.5 L723.6 298.7 L725.5 299.0 L727.5 299.2 L729.4 299.5 L731.3 299.7 L733.2 300.0 L735.1 300.2 L737.1 300.4 L739.0 300.7 L740.9 300.9 L742.8 301.1 L744.7 301.3 L746.7 301.6 L748.6 301.8 L750.5 302.0 L752.4 302.2 L754.4 302.4 L756.3 302.6 L758.2 302.8 L760.1 303.0 L762.1 303.2 L764.0 303.4 L765.9 303.6 L767.8 303.8 L769.8 304.0 L771.7 304.2 L773.6 304.3 L775.5 304.5 L777.5 304.7 L779.4 304.9 L781.3 305.0 L783.3 305.2 L785.2 305.4 L787.1 305.5 L789.0 305.7 L791.0 305.8 L792.9 306.0 L794.8 306.1 L796.8 306.3 L798.7 306.4 L800.6 306.5 L802.5 306.7 L804.5 306.8 L806.4 306.9 L808.3 307.1 L810.3 307.2 L812.2 307.3 L814.1 307.4 L816.1 307.5 L818.0 307.6 L819.9 307.7 L821.9 307.8 L823.8 308.0 L825.7 308.0 L827.7 308.1 L829.6 308.2 L831.5 308.3 L833.5 308.4 L835.4 308.5 L837.3 308.6 L839.3 308.6 L841.2 308.7 L843.1 308.8 L845.1 308.8 L847.0 308.9 L848.9 309.0 L850.9 309.0 L852.8 309.1 L854.7 309.1 L856.7 309.2 L858.6 309.2 L860.5 309.3 L862.5 309.3 L864.4 309.4 L866.3 309.4 L868.3 309.5 L870.2 309.5 L872.1 309.5 L874.1 309.6 L876.0 309.6 L878.0 309.6 L879.9 309.7 L881.8 309.7 L883.8 309.8 L885.7 309.8 L887.6 309.8 L889.6 309.9 L891.5 309.9 L893.4 309.9 L895.4 310.0 L897.3 310.0 L899.2 310.1 L901.2 310.1 L903.1 310.1 L905.1 310.2 L907.0 310.2 L908.9 310.3 L910.9 310.3 L912.8 310.4 L914.7 310.4 L916.7 310.5 L918.6 310.5 L920.5 310.6 L922.5 310.6 L924.4 310.7 L926.3 310.7 L928.3 310.8 L930.2 310.9 L932.1 310.9 L934.1 311.0 L936.0 311.1 L937.9 311.2 L939.9 311.3 L941.8 311.4 L943.7 311.4 L945.7 311.5 L947.6 311.6 L949.5 311.7 L951.5 311.8 L953.4 312.0 L955.3 312.1 L957.3 312.2 L959.2 312.3 L961.1 312.5 L963.0 312.6 L965.0 312.7 L966.9 312.9 L968.8 313.0 L970.8 313.2 L972.7 313.4 L974.6 313.5 L976.5 313.7 L978.5 313.9 L980.4 314.1 L982.3 314.3 L984.3 314.5 L986.2 314.7 L988.1 314.9 L990.0 315.1 L992.0 315.3 L993.9 315.6 L995.8 315.8 L997.7 316.0 L999.6 316.3 L1001.6 316.6 L1003.5 316.8 L1005.4 317.1 L1007.3 317.4 L1009.3 317.7 L1011.2 318.0 L1013.1 318.3 L1015.0 318.6 L1016.9 318.9 L1018.8 319.3 L1020.8 319.6 L1022.7 320.0 L1024.6 320.3 L1026.5 320.7 L1028.4 321.1 L1030.3 321.5 L1032.3 321.9 L1034.2 322.3 L1036.1 322.7 L1038.0 323.2 L1039.9 323.6 L1041.8 324.1 L1043.7 324.5 L1045.6 325.0 L1047.5 325.5 L1049.4 326.0 L1051.3 326.5 L1053.1 327.1 L1055.0 327.6 L1056.9 328.2 L1058.7 328.7 L1060.6 329.3 L1062.4 329.9 L1064.3 330.5 L1066.1 331.2 L1067.9 331.8 L1069.7 332.5 L1071.5 333.2 L1073.3 333.9 L1075.1 334.6 L1076.9 335.3 L1078.6 336.1 L1080.4 336.9 L1082.1 337.7 L1083.8 338.5 L1085.6 339.3 L1087.3 340.1 L1088.9 341.0 L1090.6 341.9 L1092.3 342.8 L1093.9 343.7 L1095.5 344.7 L1097.2 345.7 L1098.8 346.7 L1100.3 347.7 L1101.9 348.7 L1103.5 349.8 L1105.0 350.9 L1106.5 352.0 L1108.0 353.1 L1109.5 354.3 L1110.9 355.5 L1112.4 356.7 L1113.8 357.9 L1115.2 359.1 L1116.6 360.4 L1118.0 361.7 L1119.3 363.0 L1120.6 364.4 L1122.0 365.8 L1123.3 367.1 L1124.5 368.5 L1125.8 370.0 L1127.1 371.4 L1128.3 372.9 L1129.5 374.4 L1130.7 375.9 L1131.9 377.4 L1133.1 378.9 L1134.2 380.4 L1135.4 382.0 L1136.5 383.6 L1137.6 385.2 L1138.7 386.8 L1139.8 388.4 L1140.9 390.0 L1142.0 391.7 L1143.0 393.3 L1144.1 395.0 L1145.1 396.6 L1146.1 398.3 L1147.1 400.0 L1148.1 401.7 L1149.1 403.4 L1150.1 405.1 L1151.1 406.9 L1152.0 408.6 L1153.0 410.3 L1153.9 412.1 L1154.8 413.8 L1155.8 415.5 L1156.7 417.3 L1157.6 419.1 L1158.5 420.8 L1159.4 422.6 L1160.3 424.3 L1161.2 426.1 L1162.0 427.9 L1162.9 429.6 L1163.8 431.4 L1164.6 433.2 L1165.5 434.9 L1166.3 436.7 L1167.1 438.5 L1168.0 440.2 L1168.8 442.0 L1169.6 443.8 L1170.4 445.6 L1171.2 447.3 L1172.0 449.1 L1172.8 450.9 L1173.6 452.7 L1174.4 454.5 L1175.2 456.2 L1175.9 458.0 L1176.7 459.8 L1177.5 461.6 L1178.2 463.4 L1179.0 465.2 L1179.7 467.0 L1180.5 468.8 L1181.2 470.5 L1182.0 472.3 L1182.7 474.1 L1183.4 475.9 L1184.1 477.7 L1184.9 479.5 L1185.6 481.3 L1186.3 483.1 L1187.0 484.9 L1187.7 486.7 L1188.4 488.5 L1189.1 490.3 L1189.8 492.1 L1190.5 493.9 L1191.2 495.7 L1191.9 497.5 L1192.5 499.3 L1193.2 501.1 L1193.9 502.9 L1194.6 504.7 L1195.2 506.5 L1195.9 508.3 L1196.6 510.1 L1197.2 512.0 L1197.9 513.8 L1198.6 515.6 L1199.2 517.4 L1199.9 519.2 L1200.5 521.0 L1201.2 522.8 L1201.8 524.6 L1202.5 526.4 L1203.1 528.3 L1203.8 530.1 L1204.4 531.9 L1205.1 533.7 L1205.7 535.5 L1206.4 537.3 L1207.0 539.1 L1207.6 541.0 L1208.3 542.8 L1208.9 544.6 L1209.5 546.4 L1210.2 548.2 L1210.8 550.0 L1211.5 551.9 L1212.1 553.7 L1212.7 555.5 L1213.4 557.3 L1214.0 559.1 L1214.6 560.9 L1215.3 562.8 L1215.9 564.6 L1216.6 566.4 L1217.2 568.2 L1217.8 570.0 L1218.5 571.9 L1219.1 573.7 L1219.8 575.5 L1220.4 577.3 L1221.0 579.1 L1221.7 581.0 L1222.3 582.8 L1223.0 584.6 L1223.6 586.4 L1224.3 588.2 L1224.9 590.0 L1225.6 591.9 L1226.2 593.7 L1226.9 595.5 L1227.6 597.3 L1228.2 599.1 L1228.9 601.0 L1229.5 602.8 L1230.2 604.6 L1230.9 606.4 L1231.6 608.2 L1232.2 610.0 L1232.9 611.9 L1233.6 613.7 L1234.3 615.5 L1235.0 617.3 L1235.7 619.1 L1236.4 620.9 L1237.1 622.7 L1237.8 624.6 L1238.5 626.4 L1239.2 628.2 L1239.9 630.0 L1240.6 631.8 L1241.3 633.6 L1242.0 635.4 L1242.8 637.2 L1243.5 639.0 L1244.3 640.8 L1245.0 642.6 L1245.7 644.4 L1246.5 646.2 L1247.3 648.0 L1248.0 649.8 L1248.8 651.6 L1249.6 653.4 L1250.4 655.2 L1251.1 657.0 L1251.9 658.7 L1252.7 660.5 L1253.6 662.3 L1254.4 664.0 L1255.2 665.8 L1256.0 667.6 L1256.9 669.3 L1257.7 671.1 L1258.6 672.8 L1259.4 674.6 L1260.3 676.3 L1261.2 678.0 L1262.1 679.7 L1262.9 681.5 L1263.8 683.2 L1264.8 684.9 L1265.7 686.6 L1266.6 688.3 L1267.5 690.0 L1268.5 691.7 L1269.4 693.4 L1270.4 695.0 L1271.4 696.7 L1272.4 698.4 L1273.4 700.0 L1274.4 701.7 L1275.4 703.3 L1276.4 704.9 L1277.4 706.6 L1278.5 708.2 L1279.6 709.8 L1280.6 711.4 L1281.7 713.0 L1282.8 714.6 L1283.9 716.1 L1285.0 717.7 L1286.1 719.3 L1287.3 720.8 L1288.4 722.4 L1289.6 723.9 L1290.8 725.4 L1292.0 726.9 L1293.2 728.4 L1294.4 729.9 L1295.6 731.4 L1296.8 732.9 L1298.1 734.4 L1299.3 735.9 L1300.6 737.3 L1301.9 738.8 L1303.2 740.2 L1304.5 741.6 L1305.8 743.0 L1307.1 744.5 L1308.4 745.9 L1309.7 747.3 L1311.1 748.6 L1312.4 750.0 L1313.8 751.4 L1315.2 752.8 L1316.6 754.1 L1318.0 755.5 L1319.4 756.8 L1320.8 758.1 L1322.2 759.4 L1323.6 760.8 L1325.0 762.1 L1326.5 763.4 L1327.9 764.7 L1329.4 765.9 L1330.8 767.2 L1332.3 768.5 L1333.8 769.7 L1335.2 771.0 L1336.7 772.2 L1338.2 773.5 L1339.7 774.7 L1341.2 775.9 L1342.7 777.2 L1344.2 778.4 L1345.7 779.6 L1347.3 780.8 L1348.8 781.9 L1350.3 783.1 L1351.8 784.3 L1353.4 785.5 L1354.9 786.6 L1356.5 787.8 L1358.0 788.9 L1359.6 790.1 L1361.2 791.2 L1362.7 792.3 L1364.3 793.5 L1365.9 794.6 L1367.4 795.7 L1369.0 796.8 L1370.6 797.9 L1372.2 799.0 L1373.8 800.1 L1375.4 801.2 L1377.0 802.2 L1378.6 803.3 L1380.2 804.4 L1381.8 805.5 L1383.4 806.5 L1385.1 807.6 L1386.7 808.6 L1388.3 809.7 L1389.9 810.7 L1391.6 811.7 L1393.2 812.8 L1394.8 813.8 L1396.5 814.8 L1398.1 815.8 L1399.8 816.9 L1401.4 817.9 L1403.1 818.9 L1404.7 819.9 L1406.4 820.9 L1408.0 821.9 L1409.7 822.9 L1411.4 823.9 L1413.0 824.9 L1414.7 825.8 L1416.4 826.8 L1418.0 827.8 L1419.7 828.8 L1421.4 829.8 L1423.1 830.7 L1424.7 831.7 L1426.4 832.7 L1428.1 833.6 L1429.8 834.6 L1431.5 835.6 L1433.2 836.5 L1434.8 837.5 L1436.5 838.4 L1438.2 839.4 L1439.9 840.3 L1441.6 841.3 L1443.3 842.2 L1445.0 843.2 L1446.7 844.1 L1448.4 845.1 L1450.1 846.0 L1451.8 847.0 L1453.5 847.9 L1455.2 848.8 L1456.8 849.8 L1458.5 850.7 L1460.2 851.7 L1461.9 852.6 L1463.6 853.5 L1465.3 854.5 L1467.0 855.4 L1468.7 856.4 L1470.4 857.3 L1472.1 858.2 L1473.8 859.2 L1475.5 860.1 L1477.2 861.1 L1478.9 862.0 L1480.6 862.9 L1482.3 863.9 L1484.0 864.8 L1485.7 865.8 L1487.4 866.7 L1489.1 867.7 L1490.7 868.6 L1492.4 869.6 L1494.1 870.5 L1495.8 871.5 L1497.5 872.4 L1499.2 873.4 L1500.8 874.3 L1502.5 875.3 L1504.2 876.3 L1505.9 877.2 L1507.6 878.2 L1509.2 879.2 L1510.9 880.1 L1512.6 881.1 L1514.3 882.1 L1515.9 883.0 L1517.6 884.0 L1519.3 885.0 L1520.9 885.9 L1522.6 886.9 L1524.3 887.9 L1525.9 888.9 L1527.6 889.8 L1529.3 890.8 L1531.0 891.8 L1532.6 892.8 L1534.3 893.7 L1536.0 894.7 L1537.6 895.7 L1539.3 896.7 L1540.9 897.6 L1542.6 898.6 L1544.3 899.6 L1545.9 900.6 L1547.6 901.5 L1549.3 902.5 L1550.9 903.5 L1552.6 904.5 L1554.3 905.5 L1555.9 906.4 L1557.6 907.4 L1559.3 908.4 L1560.9 909.3 L1562.6 910.3 L1564.3 911.3 L1566.0 912.3 L1567.6 913.2 L1569.3 914.2 L1571.0 915.2 L1572.6 916.1 L1574.3 917.1 L1576.0 918.1 L1577.7 919.0 L1579.3 920.0 L1581.0 921.0 L1582.7 921.9 L1584.4 922.9 L1586.0 923.8 L1587.7 924.8 L1589.4 925.7 L1591.1 926.7 L1592.8 927.6 L1594.5 928.6 L1596.1 929.5 L1597.8 930.5 L1599.5 931.4 L1601.2 932.3 L1602.9 933.3 L1604.6 934.2 L1606.3 935.1 L1608.0 936.1 L1609.7 937.0 L1611.4 937.9 L1613.1 938.9 L1614.8 939.8 L1616.5 940.7 L1618.2 941.6 L1619.9 942.5 L1621.6 943.4 L1623.4 944.3 L1625.1 945.2 L1626.8 946.1 L1628.5 947.0 L1630.2 947.9 L1632.0 948.8 L1633.7 949.7"/>
<path stroke-width="3.3" stroke-dasharray="0 1.37 11.25 12.43 11.26 12.43 11.26 12.44 11.27 12.44 11.27 12.45 11.28 12.46 11.29 12.47 11.29 12.47 11.3 12.48 11.31 12.49 11.31 12.49 11.32 12.5 11.32 12.5 11.33 12.5 11.33 12.5 11.33 12.5 11.32 12.5 11.32 12.49 11.31 12.48 11.3 12.48 11.3 12.47 11.29 12.46 11.28 12.45 11.27 12.44 11.27 12.44 11.26 12.43 11.26 12.43 11.26 12.42 11.25 12.42 11.25 12.42 11.25 12.42 11.26 12.43 11.27 12.45 11.29 12.49 11.35 12.58 11.45 12.72 11.62 12.96 11.89 12.91 12.26 14.04 12.61 12.91 12.84 12.94 13 15.92 13.1 15.73 13.15 15.72 13.19 15.76 13.22 15.8 13.25 15.55 13.23 15.51 13.17 15.88 13.06 15.71 12.89 14.37 12.67 14.1 12.43 14.56 12.22 14.33 12.04 12.61 11.92 12.52 11.86 12.32 11.83 12.31 11.83 12.43 11.88 12.5 11.97 12.73 12.1 12.9 12.25 15.23 12.37 15.35 12.43 12.19 12.44 12.18 12.41 13.64 12.38 13.63 12.39 9.54 12.44 13.78 3.44 50" d="M215.0 211.3 L217.0 211.4 L218.9 211.5 L220.9 211.5 L222.8 211.6 L224.8 211.7 L226.8 211.8 L228.7 211.9 L230.7 212.0 L232.6 212.1 L234.6 212.2 L236.6 212.3 L238.5 212.4 L240.5 212.5 L242.4 212.6 L244.4 212.8 L246.3 212.9 L248.3 213.0 L250.2 213.1 L252.2 213.3 L254.1 213.4 L256.1 213.5 L258.0 213.7 L260.0 213.8 L261.9 214.0 L263.9 214.1 L265.8 214.3 L267.8 214.4 L269.7 214.6 L271.7 214.8 L273.6 214.9 L275.6 215.1 L277.5 215.3 L279.5 215.4 L281.4 215.6 L283.4 215.8 L285.3 216.0 L287.3 216.1 L289.2 216.3 L291.1 216.5 L293.1 216.7 L295.0 216.9 L297.0 217.1 L298.9 217.3 L300.8 217.5 L302.8 217.7 L304.7 217.9 L306.7 218.1 L308.6 218.3 L310.5 218.5 L312.5 218.8 L314.4 219.0 L316.4 219.2 L318.3 219.4 L320.2 219.7 L322.2 219.9 L324.1 220.1 L326.0 220.4 L328.0 220.6 L329.9 220.8 L331.8 221.1 L333.8 221.3 L335.7 221.6 L337.6 221.8 L339.6 222.1 L341.5 222.3 L343.4 222.6 L345.4 222.8 L347.3 223.1 L349.2 223.3 L351.2 223.6 L353.1 223.9 L355.0 224.1 L357.0 224.4 L358.9 224.7 L360.8 225.0 L362.7 225.2 L364.7 225.5 L366.6 225.8 L368.5 226.1 L370.5 226.4 L372.4 226.6 L374.3 226.9 L376.2 227.2 L378.2 227.5 L380.1 227.8 L382.0 228.1 L383.9 228.4 L385.9 228.7 L387.8 229.0 L389.7 229.3 L391.6 229.6 L393.6 229.9 L395.5 230.2 L397.4 230.5 L399.3 230.9 L401.3 231.2 L403.2 231.5 L405.1 231.8 L407.0 232.1 L409.0 232.4 L410.9 232.8 L412.8 233.1 L414.7 233.4 L416.6 233.7 L418.6 234.1 L420.5 234.4 L422.4 234.7 L424.3 235.1 L426.3 235.4 L428.2 235.7 L430.1 236.1 L432.0 236.4 L433.9 236.8 L435.9 237.1 L437.8 237.5 L439.7 237.8 L441.6 238.1 L443.5 238.5 L445.5 238.8 L447.4 239.2 L449.3 239.5 L451.2 239.9 L453.1 240.3 L455.1 240.6 L457.0 241.0 L458.9 241.3 L460.8 241.7 L462.7 242.1 L464.6 242.4 L466.6 242.8 L468.5 243.1 L470.4 243.5 L472.3 243.9 L474.2 244.2 L476.2 244.6 L478.1 245.0 L480.0 245.4 L481.9 245.7 L483.8 246.1 L485.7 246.5 L487.7 246.9 L489.6 247.2 L491.5 247.6 L493.4 248.0 L495.3 248.4 L497.2 248.7 L499.2 249.1 L501.1 249.5 L503.0 249.9 L504.9 250.3 L506.8 250.7 L508.7 251.1 L510.7 251.4 L512.6 251.8 L514.5 252.2 L516.4 252.6 L518.3 253.0 L520.2 253.4 L522.2 253.8 L524.1 254.2 L526.0 254.6 L527.9 254.9 L529.8 255.3 L531.7 255.7 L533.7 256.1 L535.6 256.5 L537.5 256.9 L539.4 257.3 L541.3 257.7 L543.2 258.1 L545.2 258.5 L547.1 258.9 L549.0 259.3 L550.9 259.7 L552.8 260.1 L554.7 260.4 L556.7 260.8 L558.6 261.2 L560.5 261.6 L562.4 262.0 L564.3 262.4 L566.2 262.8 L568.2 263.2 L570.1 263.6 L572.0 264.0 L573.9 264.4 L575.8 264.8 L577.7 265.2 L579.7 265.5 L581.6 265.9 L583.5 266.3 L585.4 266.7 L587.3 267.1 L589.2 267.5 L591.2 267.9 L593.1 268.3 L595.0 268.6 L596.9 269.0 L598.8 269.4 L600.8 269.8 L602.7 270.2 L604.6 270.6 L606.5 270.9 L608.4 271.3 L610.3 271.7 L612.3 272.1 L614.2 272.4 L616.1 272.8 L618.0 273.2 L619.9 273.6 L621.9 273.9 L623.8 274.3 L625.7 274.7 L627.6 275.0 L629.5 275.4 L631.5 275.8 L633.4 276.1 L635.3 276.5 L637.2 276.9 L639.1 277.2 L641.1 277.6 L643.0 277.9 L644.9 278.3 L646.8 278.6 L648.7 279.0 L650.7 279.3 L652.6 279.7 L654.5 280.0 L656.4 280.4 L658.3 280.7 L660.3 281.1 L662.2 281.4 L664.1 281.7 L666.0 282.1 L668.0 282.4 L669.9 282.7 L671.8 283.1 L673.7 283.4 L675.6 283.7 L677.6 284.0 L679.5 284.4 L681.4 284.7 L683.3 285.0 L685.3 285.3 L687.2 285.6 L689.1 285.9 L691.0 286.2 L693.0 286.5 L694.9 286.8 L696.8 287.1 L698.7 287.4 L700.7 287.7 L702.6 288.0 L704.5 288.3 L706.4 288.6 L708.4 288.9 L710.3 289.2 L712.2 289.4 L714.1 289.7 L716.1 290.0 L718.0 290.3 L719.9 290.5 L721.9 290.8 L723.8 291.1 L725.7 291.3 L727.6 291.6 L729.6 291.8 L731.5 292.1 L733.4 292.4 L735.4 292.6 L737.3 292.8 L739.2 293.1 L741.2 293.3 L743.1 293.6 L745.0 293.8 L746.9 294.0 L748.9 294.3 L750.8 294.5 L752.7 294.7 L754.7 295.0 L756.6 295.2 L758.5 295.4 L760.5 295.6 L762.4 295.8 L764.3 296.0 L766.3 296.3 L768.2 296.5 L770.2 296.7 L772.1 296.9 L774.0 297.1 L776.0 297.3 L777.9 297.5 L779.8 297.7 L781.8 297.9 L783.7 298.0 L785.7 298.2 L787.6 298.4 L789.5 298.6 L791.5 298.8 L793.4 299.0 L795.3 299.1 L797.3 299.3 L799.2 299.5 L801.2 299.7 L803.1 299.8 L805.1 300.0 L807.0 300.1 L808.9 300.3 L810.9 300.5 L812.8 300.6 L814.8 300.8 L816.7 300.9 L818.7 301.1 L820.6 301.2 L822.6 301.4 L824.5 301.5 L826.5 301.7 L828.4 301.8 L830.4 301.9 L832.3 302.1 L834.2 302.2 L836.2 302.3 L838.1 302.5 L840.1 302.6 L842.1 302.7 L844.0 302.8 L846.0 302.9 L847.9 303.1 L849.9 303.2 L851.8 303.3 L853.8 303.4 L855.7 303.5 L857.7 303.6 L859.6 303.7 L861.6 303.8 L863.5 303.9 L865.5 304.0 L867.5 304.1 L869.4 304.2 L871.4 304.3 L873.3 304.4 L875.3 304.5 L877.3 304.6 L879.2 304.6 L881.2 304.7 L883.1 304.8 L885.1 304.9 L887.1 305.0 L889.0 305.0 L891.0 305.1 L893.0 305.2 L894.9 305.2 L896.9 305.3 L898.9 305.4 L900.8 305.4 L902.8 305.5 L904.8 305.6 L906.7 305.6 L908.7 305.7 L910.7 305.7 L912.7 305.8 L914.6 305.9 L916.6 305.9 L918.6 306.0 L920.5 306.0 L922.5 306.1 L924.5 306.1 L926.4 306.2 L928.4 306.3 L930.4 306.3 L932.3 306.4 L934.3 306.5 L936.3 306.6 L938.2 306.6 L940.2 306.7 L942.2 306.8 L944.1 306.9 L946.1 307.0 L948.1 307.1 L950.0 307.2 L952.0 307.3 L954.0 307.4 L955.9 307.5 L957.9 307.6 L959.8 307.7 L961.8 307.9 L963.7 308.0 L965.7 308.2 L967.6 308.3 L969.6 308.5 L971.5 308.6 L973.5 308.8 L975.4 309.0 L977.4 309.2 L979.3 309.4 L981.2 309.6 L983.2 309.8 L985.1 310.0 L987.0 310.2 L989.0 310.5 L990.9 310.7 L992.8 311.0 L994.8 311.3 L996.7 311.5 L998.6 311.8 L1000.5 312.1 L1002.4 312.4 L1004.3 312.8 L1006.2 313.1 L1008.2 313.4 L1010.1 313.8 L1012.0 314.2 L1013.9 314.6 L1015.7 314.9 L1017.6 315.4 L1019.5 315.8 L1021.4 316.2 L1023.3 316.7 L1025.2 317.1 L1027.0 317.6 L1028.9 318.1 L1030.8 318.6 L1032.6 319.1 L1034.5 319.7 L1036.4 320.2 L1038.2 320.8 L1040.1 321.4 L1041.9 322.0 L1043.8 322.6 L1045.6 323.2 L1047.4 323.9 L1049.2 324.5 L1051.1 325.2 L1052.9 325.9 L1054.7 326.6 L1056.5 327.4 L1058.3 328.1 L1060.1 328.9 L1061.9 329.7 L1063.6 330.5 L1065.4 331.3 L1067.1 332.1 L1068.9 333.0 L1070.6 333.9 L1072.3 334.8 L1074.1 335.7 L1075.8 336.6 L1077.4 337.6 L1079.1 338.5 L1080.8 339.5 L1082.4 340.5 L1084.1 341.6 L1085.7 342.6 L1087.3 343.7 L1088.9 344.8 L1090.5 345.9 L1092.1 347.0 L1093.6 348.1 L1095.2 349.3 L1096.7 350.5 L1098.2 351.7 L1099.7 352.9 L1101.2 354.2 L1102.7 355.5 L1104.1 356.7 L1105.5 358.1 L1107.0 359.4 L1108.4 360.7 L1109.7 362.1 L1111.1 363.5 L1112.5 364.9 L1113.8 366.3 L1115.1 367.7 L1116.5 369.1 L1117.8 370.6 L1119.0 372.1 L1120.3 373.5 L1121.6 375.0 L1122.8 376.5 L1124.1 378.1 L1125.3 379.6 L1126.5 381.1 L1127.7 382.7 L1128.9 384.3 L1130.1 385.8 L1131.2 387.4 L1132.4 389.0 L1133.5 390.6 L1134.6 392.2 L1135.8 393.9 L1136.9 395.5 L1138.0 397.1 L1139.0 398.8 L1140.1 400.4 L1141.2 402.1 L1142.2 403.7 L1143.3 405.4 L1144.3 407.0 L1145.4 408.7 L1146.4 410.4 L1147.4 412.1 L1148.4 413.8 L1149.4 415.5 L1150.4 417.1 L1151.4 418.8 L1152.3 420.6 L1153.3 422.3 L1154.3 424.0 L1155.2 425.7 L1156.2 427.4 L1157.1 429.1 L1158.0 430.8 L1159.0 432.6 L1159.9 434.3 L1160.8 436.0 L1161.7 437.8 L1162.6 439.5 L1163.5 441.2 L1164.4 443.0 L1165.3 444.7 L1166.2 446.5 L1167.1 448.2 L1168.0 450.0 L1168.9 451.7 L1169.7 453.5 L1170.6 455.2 L1171.5 457.0 L1172.4 458.7 L1173.2 460.5 L1174.1 462.2 L1174.9 464.0 L1175.8 465.7 L1176.7 467.5 L1177.5 469.2 L1178.4 471.0 L1179.2 472.7 L1180.1 474.5 L1180.9 476.3 L1181.8 478.0 L1182.6 479.8 L1183.4 481.5 L1184.3 483.3 L1185.1 485.0 L1185.9 486.8 L1186.8 488.6 L1187.6 490.3 L1188.4 492.1 L1189.2 493.9 L1190.1 495.6 L1190.9 497.4 L1191.7 499.2 L1192.5 500.9 L1193.3 502.7 L1194.2 504.5 L1195.0 506.2 L1195.8 508.0 L1196.6 509.8 L1197.4 511.5 L1198.2 513.3 L1199.0 515.1 L1199.8 516.9 L1200.6 518.6 L1201.4 520.4 L1202.2 522.2 L1203.0 524.0 L1203.8 525.7 L1204.6 527.5 L1205.4 529.3 L1206.1 531.1 L1206.9 532.9 L1207.7 534.6 L1208.5 536.4 L1209.3 538.2 L1210.1 540.0 L1210.8 541.8 L1211.6 543.6 L1212.4 545.4 L1213.2 547.2 L1213.9 548.9 L1214.7 550.7 L1215.5 552.5 L1216.3 554.3 L1217.0 556.1 L1217.8 557.9 L1218.6 559.7 L1219.3 561.5 L1220.1 563.3 L1220.9 565.1 L1221.7 566.9 L1222.4 568.7 L1223.2 570.4 L1224.0 572.2 L1224.8 574.0 L1225.6 575.8 L1226.3 577.6 L1227.1 579.4 L1227.9 581.2 L1228.7 583.0 L1229.5 584.8 L1230.3 586.5 L1231.1 588.3 L1231.9 590.1 L1232.7 591.9 L1233.5 593.7 L1234.3 595.5 L1235.1 597.2 L1235.9 599.0 L1236.8 600.8 L1237.6 602.6 L1238.4 604.4 L1239.2 606.1 L1240.1 607.9 L1240.9 609.7 L1241.8 611.4 L1242.6 613.2 L1243.5 615.0 L1244.3 616.7 L1245.2 618.5 L1246.1 620.2 L1247.0 622.0 L1247.8 623.7 L1248.7 625.5 L1249.6 627.2 L1250.5 629.0 L1251.4 630.7 L1252.4 632.4 L1253.3 634.2 L1254.2 635.9 L1255.1 637.6 L1256.1 639.3 L1257.0 641.0 L1258.0 642.7 L1259.0 644.4 L1259.9 646.1 L1260.9 647.8 L1261.9 649.5 L1262.9 651.2 L1263.9 652.8 L1264.9 654.5 L1266.0 656.2 L1267.0 657.8 L1268.0 659.5 L1269.1 661.1 L1270.1 662.8 L1271.2 664.4 L1272.3 666.0 L1273.4 667.6 L1274.5 669.2 L1275.6 670.8 L1276.7 672.4 L1277.8 674.0 L1279.0 675.6 L1280.1 677.2 L1281.3 678.7 L1282.5 680.3 L1283.7 681.8 L1284.9 683.4 L1286.1 684.9 L1287.3 686.4 L1288.5 687.9 L1289.8 689.4 L1291.0 690.9 L1292.3 692.4 L1293.5 693.9 L1294.8 695.4 L1296.1 696.8 L1297.4 698.3 L1298.7 699.7 L1300.0 701.2 L1301.4 702.6 L1302.7 704.0 L1304.0 705.4 L1305.4 706.8 L1306.8 708.2 L1308.1 709.6 L1309.5 711.0 L1310.9 712.3 L1312.3 713.7 L1313.7 715.1 L1315.1 716.4 L1316.5 717.7 L1318.0 719.1 L1319.4 720.4 L1320.9 721.7 L1322.3 723.0 L1323.8 724.3 L1325.3 725.5 L1326.7 726.8 L1328.2 728.1 L1329.7 729.3 L1331.2 730.6 L1332.7 731.8 L1334.2 733.0 L1335.7 734.3 L1337.3 735.5 L1338.8 736.7 L1340.3 737.9 L1341.9 739.1 L1343.4 740.3 L1345.0 741.4 L1346.5 742.6 L1348.1 743.8 L1349.7 744.9 L1351.3 746.1 L1352.8 747.2 L1354.4 748.4 L1356.0 749.5 L1357.6 750.6 L1359.2 751.7 L1360.8 752.8 L1362.4 754.0 L1364.0 755.1 L1365.6 756.2 L1367.3 757.3 L1368.9 758.4 L1370.5 759.5 L1372.1 760.5 L1373.8 761.6 L1375.4 762.7 L1377.0 763.8 L1378.7 764.9 L1380.3 765.9 L1381.9 767.0 L1383.6 768.1 L1385.2 769.1 L1386.9 770.2 L1388.5 771.2 L1390.2 772.3 L1391.8 773.3 L1393.5 774.4 L1395.1 775.5 L1396.8 776.5 L1398.4 777.6 L1400.1 778.6 L1401.8 779.7 L1403.4 780.7 L1405.1 781.8 L1406.7 782.8 L1408.4 783.9 L1410.0 784.9 L1411.7 786.0 L1413.3 787.0 L1415.0 788.1 L1416.6 789.1 L1418.3 790.2 L1419.9 791.2 L1421.6 792.3 L1423.2 793.3 L1424.9 794.4 L1426.5 795.5 L1428.2 796.5 L1429.8 797.6 L1431.4 798.7 L1433.1 799.8 L1434.7 800.8 L1436.3 801.9 L1437.9 803.0 L1439.6 804.1 L1441.2 805.2 L1442.8 806.3 L1444.4 807.4 L1446.0 808.5 L1447.6 809.6 L1449.2 810.7 L1450.8 811.8 L1452.4 813.0 L1454.0 814.1 L1455.6 815.2 L1457.1 816.4 L1458.7 817.5 L1460.3 818.7 L1461.8 819.9 L1463.4 821.0 L1464.9 822.2 L1466.5 823.4 L1468.0 824.6 L1469.5 825.8 L1471.1 827.0 L1472.6 828.2 L1474.1 829.4 L1475.6 830.6 L1477.1 831.9 L1478.6 833.1 L1480.1 834.4 L1481.6 835.6 L1483.0 836.9 L1484.5 838.2 L1486.0 839.5 L1487.4 840.8 L1488.9 842.1 L1490.3 843.4 L1491.7 844.7 L1493.2 846.0 L1494.6 847.3 L1496.0 848.7 L1497.4 850.0 L1498.8 851.3 L1500.2 852.7 L1501.6 854.1 L1503.0 855.4 L1504.4 856.8 L1505.8 858.2 L1507.2 859.5 L1508.5 860.9 L1509.9 862.3 L1511.3 863.7 L1512.6 865.1 L1514.0 866.5 L1515.3 867.9 L1516.7 869.3 L1518.0 870.8 L1519.4 872.2 L1520.7 873.6 L1522.1 875.0 L1523.4 876.4 L1524.7 877.9 L1526.1 879.3 L1527.4 880.8 L1528.7 882.2 L1530.1 883.6 L1531.4 885.1 L1532.7 886.5 L1534.0 888.0 L1535.3 889.4 L1536.7 890.9 L1538.0 892.3 L1539.3 893.8 L1540.6 895.2 L1541.9 896.7 L1543.2 898.2 L1544.6 899.6 L1545.9 901.1 L1547.2 902.5 L1548.5 904.0 L1549.8 905.4 L1551.1 906.9 L1552.4 908.4 L1553.7 909.8 L1555.0 911.3 L1556.4 912.7 L1557.7 914.2 L1559.0 915.6 L1560.3 917.1 L1561.6 918.5 L1562.9 920.0 L1564.3 921.4 L1565.6 922.9 L1566.9 924.3 L1568.2 925.7 L1569.6 927.2 L1570.9 928.6 L1572.2 930.0 L1573.6 931.5 L1574.9 932.9 L1576.2 934.3 L1577.6 935.7 L1578.9 937.1 L1580.2 938.6 L1581.6 940.0 L1582.9 941.4 L1584.3 942.8 L1585.6 944.2 L1586.9 945.6 L1588.3 947.0 L1589.6 948.5 L1591.0 949.9 L1592.3 951.3 L1593.7 952.7 L1595.0 954.1 L1596.3 955.5 L1597.7 956.9 L1599.0 958.3 L1600.4 959.8 L1601.7 961.2 L1603.0 962.6 L1604.4 964.0 L1605.7 965.4 L1607.0 966.8 L1608.3 968.3 L1609.7 969.7 L1611.0 971.1 L1612.3 972.5 L1613.6 974.0 L1615.0 975.4 L1616.3 976.8 L1617.6 978.3 L1618.9 979.7 L1620.2 981.2 L1621.5 982.6 L1622.8 984.1 L1624.1 985.5 L1625.4 987.0 L1626.7 988.4 L1627.9 989.9 L1629.2 991.4 L1630.5 992.8 L1631.8 994.3 L1633.0 995.8 L1634.3 997.3"/>
<path stroke-width="2.9" d="M215.0 211.3 L217.0 211.3 L218.9 211.4 L220.9 211.4 L222.9 211.5 L224.9 211.5 L226.8 211.6 L228.8 211.6 L230.8 211.7 L232.7 211.8 L234.7 211.8 L236.7 211.9 L238.6 212.0 L240.6 212.1 L242.6 212.1 L244.5 212.2 L246.5 212.3 L248.5 212.4 L250.4 212.5 L252.4 212.6 L254.3 212.7 L256.3 212.8 L258.3 212.9 L260.2 213.0 L262.2 213.2 L264.2 213.3 L266.1 213.4 L268.1 213.5 L270.0 213.7 L272.0 213.8 L274.0 213.9 L275.9 214.1 L277.9 214.2 L279.8 214.4 L281.8 214.5 L283.8 214.7 L285.7 214.8 L287.7 215.0 L289.6 215.1 L291.6 215.3 L293.5 215.4 L295.5 215.6 L297.5 215.8 L299.4 216.0 L301.4 216.1 L303.3 216.3 L305.3 216.5 L307.2 216.7 L309.2 216.9 L311.1 217.1 L313.1 217.3 L315.0 217.5 L317.0 217.7 L318.9 217.9 L320.9 218.1 L322.8 218.3 L324.8 218.5 L326.7 218.7 L328.7 218.9 L330.6 219.1 L332.6 219.4 L334.5 219.6 L336.5 219.8 L338.4 220.0 L340.4 220.3 L342.3 220.5 L344.3 220.8 L346.2 221.0 L348.2 221.2 L350.1 221.5 L352.1 221.7 L354.0 222.0 L356.0 222.2 L357.9 222.5 L359.9 222.7 L361.8 223.0 L363.7 223.3 L365.7 223.5 L367.6 223.8 L369.6 224.1 L371.5 224.3 L373.5 224.6 L375.4 224.9 L377.3 225.2 L379.3 225.5 L381.2 225.7 L383.2 226.0 L385.1 226.3 L387.0 226.6 L389.0 226.9 L390.9 227.2 L392.9 227.5 L394.8 227.8 L396.7 228.1 L398.7 228.4 L400.6 228.7 L402.6 229.0 L404.5 229.3 L406.4 229.6 L408.4 229.9 L410.3 230.3 L412.2 230.6 L414.2 230.9 L416.1 231.2 L418.1 231.5 L420.0 231.9 L421.9 232.2 L423.9 232.5 L425.8 232.9 L427.7 233.2 L429.7 233.5 L431.6 233.9 L433.5 234.2 L435.5 234.5 L437.4 234.9 L439.3 235.2 L441.3 235.6 L443.2 235.9 L445.1 236.3 L447.1 236.6 L449.0 237.0 L450.9 237.3 L452.8 237.7 L454.8 238.0 L456.7 238.4 L458.6 238.8 L460.6 239.1 L462.5 239.5 L464.4 239.9 L466.4 240.2 L468.3 240.6 L470.2 241.0 L472.1 241.3 L474.1 241.7 L476.0 242.1 L477.9 242.5 L479.9 242.8 L481.8 243.2 L483.7 243.6 L485.6 244.0 L487.6 244.4 L489.5 244.8 L491.4 245.1 L493.3 245.5 L495.3 245.9 L497.2 246.3 L499.1 246.7 L501.0 247.1 L503.0 247.5 L504.9 247.9 L506.8 248.3 L508.7 248.7 L510.7 249.1 L512.6 249.5 L514.5 249.9 L516.4 250.3 L518.4 250.7 L520.3 251.1 L522.2 251.5 L524.1 251.9 L526.0 252.3 L528.0 252.7 L529.9 253.1 L531.8 253.6 L533.7 254.0 L535.6 254.4 L537.6 254.8 L539.5 255.2 L541.4 255.6 L543.3 256.0 L545.3 256.5 L547.2 256.9 L549.1 257.3 L551.0 257.7 L552.9 258.1 L554.8 258.6 L556.8 259.0 L558.7 259.4 L560.6 259.8 L562.5 260.3 L564.4 260.7 L566.4 261.1 L568.3 261.6 L570.2 262.0 L572.1 262.4 L574.0 262.8 L575.9 263.3 L577.9 263.7 L579.8 264.1 L581.7 264.6 L583.6 265.0 L585.5 265.4 L587.4 265.9 L589.4 266.3 L591.3 266.7 L593.2 267.2 L595.1 267.6 L597.0 268.1 L598.9 268.5 L600.8 268.9 L602.8 269.4 L604.7 269.8 L606.6 270.3 L608.5 270.7 L610.4 271.1 L612.3 271.6 L614.2 272.0 L616.2 272.5 L618.1 272.9 L620.0 273.3 L621.9 273.8 L623.8 274.2 L625.7 274.6 L627.6 275.1 L629.6 275.5 L631.5 276.0 L633.4 276.4 L635.3 276.8 L637.2 277.3 L639.1 277.7 L641.0 278.1 L643.0 278.6 L644.9 279.0 L646.8 279.4 L648.7 279.9 L650.6 280.3 L652.5 280.7 L654.4 281.2 L656.4 281.6 L658.3 282.0 L660.2 282.5 L662.1 282.9 L664.0 283.3 L665.9 283.7 L667.9 284.2 L669.8 284.6 L671.7 285.0 L673.6 285.4 L675.5 285.9 L677.4 286.3 L679.4 286.7 L681.3 287.1 L683.2 287.5 L685.1 287.9 L687.0 288.3 L688.9 288.7 L690.9 289.2 L692.8 289.6 L694.7 290.0 L696.6 290.4 L698.5 290.8 L700.5 291.2 L702.4 291.6 L704.3 292.0 L706.2 292.4 L708.2 292.7 L710.1 293.1 L712.0 293.5 L713.9 293.9 L715.9 294.3 L717.8 294.7 L719.7 295.1 L721.6 295.4 L723.6 295.8 L725.5 296.2 L727.4 296.5 L729.3 296.9 L731.3 297.3 L733.2 297.6 L735.1 298.0 L737.1 298.4 L739.0 298.7 L740.9 299.1 L742.8 299.4 L744.8 299.8 L746.7 300.1 L748.6 300.4 L750.6 300.8 L752.5 301.1 L754.4 301.4 L756.4 301.8 L758.3 302.1 L760.3 302.4 L762.2 302.7 L764.1 303.0 L766.1 303.4 L768.0 303.7 L769.9 304.0 L771.9 304.3 L773.8 304.6 L775.8 304.9 L777.7 305.2 L779.7 305.5 L781.6 305.7 L783.5 306.0 L785.5 306.3 L787.4 306.6 L789.4 306.9 L791.3 307.1 L793.3 307.4 L795.2 307.7 L797.2 307.9 L799.1 308.2 L801.1 308.4 L803.0 308.7 L805.0 308.9 L806.9 309.2 L808.9 309.4 L810.8 309.7 L812.8 309.9 L814.7 310.1 L816.7 310.4 L818.6 310.6 L820.6 310.8 L822.6 311.1 L824.5 311.3 L826.5 311.5 L828.4 311.7 L830.4 311.9 L832.3 312.2 L834.3 312.4 L836.2 312.6 L838.2 312.8 L840.1 313.0 L842.1 313.2 L844.1 313.4 L846.0 313.6 L848.0 313.8 L849.9 314.0 L851.9 314.2 L853.8 314.4 L855.8 314.6 L857.7 314.8 L859.7 315.0 L861.6 315.2 L863.6 315.4 L865.6 315.6 L867.5 315.8 L869.5 315.9 L871.4 316.1 L873.4 316.3 L875.3 316.5 L877.3 316.7 L879.2 316.9 L881.2 317.0 L883.1 317.2 L885.1 317.4 L887.0 317.6 L889.0 317.8 L890.9 317.9 L892.9 318.1 L894.8 318.3 L896.8 318.5 L898.7 318.6 L900.7 318.8 L902.6 319.0 L904.6 319.2 L906.5 319.3 L908.4 319.5 L910.4 319.7 L912.3 319.8 L914.3 320.0 L916.2 320.2 L918.2 320.3 L920.1 320.5 L922.1 320.7 L924.0 320.8 L926.0 321.0 L927.9 321.2 L929.9 321.3 L931.8 321.5 L933.8 321.6 L935.7 321.8 L937.7 322.0 L939.6 322.1 L941.6 322.3 L943.5 322.4 L945.5 322.6 L947.4 322.7 L949.4 322.9 L951.4 323.0 L953.3 323.2 L955.3 323.3 L957.2 323.5 L959.2 323.6 L961.2 323.7 L963.1 323.9 L965.1 324.0 L967.1 324.2 L969.0 324.3 L971.0 324.5 L973.0 324.6 L974.9 324.7 L976.9 324.9 L978.9 325.1 L980.8 325.2 L982.8 325.4 L984.8 325.5 L986.8 325.7 L988.7 325.9 L990.7 326.1 L992.7 326.2 L994.6 326.4 L996.6 326.6 L998.6 326.8 L1000.5 327.0 L1002.5 327.3 L1004.5 327.5 L1006.4 327.7 L1008.4 327.9 L1010.4 328.2 L1012.3 328.5 L1014.3 328.7 L1016.3 329.0 L1018.2 329.3 L1020.2 329.6 L1022.1 329.9 L1024.1 330.2 L1026.0 330.5 L1028.0 330.9 L1029.9 331.2 L1031.9 331.6 L1033.8 332.0 L1035.8 332.4 L1037.7 332.8 L1039.7 333.2 L1041.6 333.7 L1043.5 334.1 L1045.5 334.6 L1047.4 335.1 L1049.3 335.6 L1051.2 336.1 L1053.1 336.6 L1055.0 337.2 L1056.9 337.8 L1058.8 338.4 L1060.6 339.0 L1062.5 339.6 L1064.4 340.3 L1066.2 340.9 L1068.0 341.6 L1069.9 342.4 L1071.7 343.1 L1073.5 343.9 L1075.3 344.6 L1077.1 345.4 L1078.8 346.3 L1080.6 347.1 L1082.3 348.0 L1084.1 348.9 L1085.8 349.8 L1087.5 350.7 L1089.2 351.7 L1090.9 352.7 L1092.5 353.7 L1094.2 354.7 L1095.8 355.7 L1097.4 356.8 L1099.0 357.9 L1100.6 359.0 L1102.2 360.1 L1103.7 361.3 L1105.2 362.5 L1106.8 363.7 L1108.2 364.9 L1109.7 366.1 L1111.2 367.4 L1112.6 368.6 L1114.0 369.9 L1115.4 371.3 L1116.8 372.6 L1118.2 374.0 L1119.5 375.4 L1120.8 376.8 L1122.1 378.2 L1123.4 379.6 L1124.6 381.1 L1125.9 382.6 L1127.1 384.0 L1128.3 385.6 L1129.5 387.1 L1130.7 388.6 L1131.8 390.2 L1132.9 391.8 L1134.1 393.4 L1135.2 395.0 L1136.3 396.6 L1137.3 398.2 L1138.4 399.9 L1139.4 401.5 L1140.5 403.2 L1141.5 404.9 L1142.5 406.6 L1143.5 408.3 L1144.5 410.0 L1145.4 411.7 L1146.4 413.4 L1147.4 415.2 L1148.3 416.9 L1149.2 418.7 L1150.1 420.4 L1151.1 422.2 L1152.0 424.0 L1152.8 425.8 L1153.7 427.5 L1154.6 429.3 L1155.5 431.1 L1156.3 432.9 L1157.2 434.7 L1158.0 436.5 L1158.9 438.4 L1159.7 440.2 L1160.6 442.0 L1161.4 443.8 L1162.2 445.6 L1163.0 447.4 L1163.9 449.2 L1164.7 451.1 L1165.5 452.9 L1166.3 454.7 L1167.1 456.5 L1167.9 458.3 L1168.7 460.1 L1169.5 461.9 L1170.3 463.7 L1171.1 465.5 L1171.9 467.4 L1172.7 469.2 L1173.5 471.0 L1174.3 472.8 L1175.0 474.6 L1175.8 476.4 L1176.6 478.2 L1177.4 480.0 L1178.1 481.8 L1178.9 483.6 L1179.6 485.4 L1180.4 487.3 L1181.2 489.1 L1181.9 490.9 L1182.7 492.7 L1183.4 494.5 L1184.1 496.3 L1184.9 498.1 L1185.6 499.9 L1186.3 501.7 L1187.1 503.6 L1187.8 505.4 L1188.5 507.2 L1189.2 509.0 L1190.0 510.8 L1190.7 512.6 L1191.4 514.5 L1192.1 516.3 L1192.8 518.1 L1193.5 519.9 L1194.2 521.8 L1194.9 523.6 L1195.6 525.4 L1196.2 527.2 L1196.9 529.1 L1197.6 530.9 L1198.3 532.7 L1198.9 534.6 L1199.6 536.4 L1200.3 538.3 L1200.9 540.1 L1201.6 541.9 L1202.3 543.8 L1202.9 545.6 L1203.6 547.5 L1204.2 549.3 L1204.9 551.2 L1205.5 553.0 L1206.1 554.9 L1206.8 556.7 L1207.4 558.6 L1208.1 560.4 L1208.7 562.3 L1209.3 564.2 L1210.0 566.0 L1210.6 567.9 L1211.2 569.7 L1211.8 571.6 L1212.5 573.5 L1213.1 575.3 L1213.7 577.2 L1214.3 579.0 L1215.0 580.9 L1215.6 582.8 L1216.2 584.6 L1216.8 586.5 L1217.4 588.4 L1218.1 590.2 L1218.7 592.1 L1219.3 593.9 L1219.9 595.8 L1220.6 597.7 L1221.2 599.5 L1221.8 601.4 L1222.4 603.3 L1223.0 605.1 L1223.7 607.0 L1224.3 608.9 L1224.9 610.7 L1225.6 612.6 L1226.2 614.4 L1226.8 616.3 L1227.4 618.2 L1228.1 620.0 L1228.7 621.9 L1229.3 623.8 L1230.0 625.6 L1230.6 627.5 L1231.3 629.3 L1231.9 631.2 L1232.6 633.0 L1233.2 634.9 L1233.9 636.8 L1234.5 638.6 L1235.2 640.5 L1235.8 642.3 L1236.5 644.2 L1237.2 646.0 L1237.8 647.9 L1238.5 649.7 L1239.2 651.6 L1239.9 653.4 L1240.5 655.2 L1241.2 657.1 L1241.9 658.9 L1242.6 660.8 L1243.3 662.6 L1244.0 664.4 L1244.7 666.3 L1245.4 668.1 L1246.1 669.9 L1246.9 671.8 L1247.6 673.6 L1248.3 675.4 L1249.0 677.2 L1249.8 679.1 L1250.5 680.9 L1251.3 682.7 L1252.0 684.5 L1252.8 686.3 L1253.5 688.1 L1254.3 689.9 L1255.1 691.7 L1255.9 693.5 L1256.7 695.3 L1257.4 697.1 L1258.2 698.9 L1259.1 700.7 L1259.9 702.5 L1260.7 704.3 L1261.5 706.1 L1262.3 707.9 L1263.2 709.7 L1264.0 711.4 L1264.9 713.2 L1265.7 715.0 L1266.6 716.8 L1267.5 718.5 L1268.3 720.3 L1269.2 722.0 L1270.1 723.8 L1271.0 725.6 L1271.9 727.3 L1272.8 729.0 L1273.8 730.8 L1274.7 732.5 L1275.6 734.3 L1276.6 736.0 L1277.5 737.7 L1278.5 739.4 L1279.5 741.1 L1280.4 742.8 L1281.4 744.5 L1282.4 746.2 L1283.4 747.9 L1284.4 749.6 L1285.5 751.3 L1286.5 753.0 L1287.5 754.6 L1288.6 756.3 L1289.6 758.0 L1290.7 759.6 L1291.8 761.3 L1292.8 762.9 L1293.9 764.5 L1295.0 766.1 L1296.1 767.8 L1297.3 769.4 L1298.4 771.0 L1299.5 772.6 L1300.7 774.1 L1301.8 775.7 L1303.0 777.3 L1304.2 778.8 L1305.4 780.4 L1306.5 781.9 L1307.8 783.5 L1309.0 785.0 L1310.2 786.5 L1311.4 788.0 L1312.7 789.5 L1313.9 791.0 L1315.2 792.5 L1316.5 794.0 L1317.7 795.4 L1319.0 796.9 L1320.3 798.3 L1321.7 799.8 L1323.0 801.2 L1324.3 802.6 L1325.7 804.0 L1327.0 805.4 L1328.4 806.8 L1329.8 808.1 L1331.2 809.5 L1332.6 810.8 L1334.0 812.2 L1335.4 813.5 L1336.9 814.8 L1338.3 816.1 L1339.8 817.4 L1341.3 818.7 L1342.7 819.9 L1344.2 821.2 L1345.7 822.4 L1347.3 823.6 L1348.8 824.9 L1350.3 826.1 L1351.9 827.3 L1353.4 828.5 L1355.0 829.6 L1356.5 830.8 L1358.1 832.0 L1359.7 833.1 L1361.3 834.3 L1362.9 835.4 L1364.5 836.5 L1366.1 837.6 L1367.8 838.7 L1369.4 839.9 L1371.0 840.9 L1372.7 842.0 L1374.3 843.1 L1376.0 844.2 L1377.7 845.3 L1379.3 846.3 L1381.0 847.4 L1382.7 848.4 L1384.4 849.5 L1386.1 850.5 L1387.8 851.5 L1389.5 852.6 L1391.2 853.6 L1392.9 854.6 L1394.6 855.6 L1396.3 856.6 L1398.0 857.6 L1399.7 858.6 L1401.4 859.6 L1403.1 860.6 L1404.9 861.6 L1406.6 862.6 L1408.3 863.6 L1410.0 864.6 L1411.8 865.6 L1413.5 866.6 L1415.2 867.5 L1417.0 868.5 L1418.7 869.5 L1420.4 870.5 L1422.1 871.5 L1423.9 872.4 L1425.6 873.4 L1427.3 874.4 L1429.0 875.4 L1430.8 876.3 L1432.5 877.3 L1434.2 878.3 L1435.9 879.3 L1437.6 880.2 L1439.3 881.2 L1441.0 882.2 L1442.7 883.2 L1444.4 884.2 L1446.2 885.1 L1447.9 886.1 L1449.6 887.1 L1451.3 888.1 L1453.0 889.1 L1454.7 890.0 L1456.4 891.0 L1458.1 892.0 L1459.7 893.0 L1461.4 894.0 L1463.1 894.9 L1464.8 895.9 L1466.5 896.9 L1468.2 897.9 L1469.9 898.8 L1471.6 899.8 L1473.3 900.8 L1475.0 901.8 L1476.7 902.7 L1478.4 903.7 L1480.1 904.7 L1481.8 905.7 L1483.5 906.6 L1485.2 907.6 L1486.9 908.5 L1488.6 909.5 L1490.3 910.5 L1492.0 911.4 L1493.7 912.4 L1495.4 913.4 L1497.1 914.3 L1498.8 915.3 L1500.5 916.2 L1502.2 917.2 L1503.9 918.1 L1505.6 919.1 L1507.3 920.0 L1509.0 920.9 L1510.7 921.9 L1512.4 922.8 L1514.1 923.7 L1515.9 924.7 L1517.6 925.6 L1519.3 926.5 L1521.0 927.5 L1522.8 928.4 L1524.5 929.3 L1526.2 930.2 L1528.0 931.1 L1529.7 932.0 L1531.4 932.9 L1533.2 933.9 L1534.9 934.8 L1536.7 935.7 L1538.4 936.6 L1540.2 937.5 L1541.9 938.4 L1543.7 939.3 L1545.4 940.2 L1547.2 941.1 L1548.9 941.9 L1550.7 942.8 L1552.4 943.7 L1554.2 944.6 L1555.9 945.5 L1557.7 946.4 L1559.4 947.3 L1561.2 948.2 L1563.0 949.1 L1564.7 950.0 L1566.5 950.8 L1568.2 951.7 L1570.0 952.6 L1571.7 953.5 L1573.5 954.4 L1575.3 955.3 L1577.0 956.2 L1578.8 957.1 L1580.5 958.0 L1582.3 958.9 L1584.0 959.8 L1585.8 960.7 L1587.5 961.5 L1589.3 962.4 L1591.0 963.3 L1592.8 964.2 L1594.5 965.1 L1596.3 966.1 L1598.0 967.0 L1599.8 967.9 L1601.5 968.8 L1603.3 969.7 L1605.0 970.6 L1606.7 971.5 L1608.5 972.4 L1610.2 973.4 L1611.9 974.3 L1613.7 975.2 L1615.4 976.1 L1617.1 977.1 L1618.8 978.0 L1620.5 979.0 L1622.3 979.9 L1624.0 980.8 L1625.7 981.8 L1627.4 982.7 L1629.1 983.7 L1630.8 984.7 L1632.5 985.6 L1634.2 986.6"/>
<path stroke-width="4.6" d="M215.0 211.3 L216.9 211.3 L218.9 211.4 L220.8 211.4 L222.8 211.4 L224.7 211.5 L226.7 211.5 L228.6 211.6 L230.6 211.6 L232.5 211.7 L234.4 211.7 L236.4 211.8 L238.3 211.8 L240.3 211.9 L242.2 211.9 L244.2 212.0 L246.1 212.1 L248.1 212.1 L250.0 212.2 L251.9 212.3 L253.9 212.3 L255.8 212.4 L257.8 212.5 L259.7 212.6 L261.7 212.7 L263.6 212.7 L265.6 212.8 L267.5 212.9 L269.4 213.0 L271.4 213.1 L273.3 213.2 L275.3 213.3 L277.2 213.4 L279.2 213.5 L281.1 213.6 L283.1 213.7 L285.0 213.8 L286.9 213.9 L288.9 214.0 L290.8 214.1 L292.8 214.2 L294.7 214.4 L296.7 214.5 L298.6 214.6 L300.5 214.7 L302.5 214.8 L304.4 215.0 L306.4 215.1 L308.3 215.2 L310.3 215.4 L312.2 215.5 L314.1 215.6 L316.1 215.8 L318.0 215.9 L320.0 216.1 L321.9 216.2 L323.8 216.4 L325.8 216.5 L327.7 216.7 L329.7 216.8 L331.6 217.0 L333.6 217.1 L335.5 217.3 L337.4 217.5 L339.4 217.6 L341.3 217.8 L343.2 218.0 L345.2 218.1 L347.1 218.3 L349.1 218.5 L351.0 218.7 L352.9 218.9 L354.9 219.0 L356.8 219.2 L358.8 219.4 L360.7 219.6 L362.6 219.8 L364.6 220.0 L366.5 220.2 L368.4 220.4 L370.4 220.6 L372.3 220.8 L374.3 221.0 L376.2 221.2 L378.1 221.4 L380.1 221.6 L382.0 221.8 L383.9 222.1 L385.9 222.3 L387.8 222.5 L389.7 222.7 L391.7 222.9 L393.6 223.2 L395.5 223.4 L397.5 223.6 L399.4 223.9 L401.3 224.1 L403.3 224.3 L405.2 224.6 L407.1 224.8 L409.1 225.1 L411.0 225.3 L412.9 225.5 L414.9 225.8 L416.8 226.1 L418.7 226.3 L420.6 226.6 L422.6 226.8 L424.5 227.1 L426.4 227.3 L428.4 227.6 L430.3 227.9 L432.2 228.2 L434.1 228.4 L436.1 228.7 L438.0 229.0 L439.9 229.3 L441.9 229.5 L443.8 229.8 L445.7 230.1 L447.6 230.4 L449.6 230.7 L451.5 231.0 L453.4 231.3 L455.3 231.6 L457.3 231.9 L459.2 232.2 L461.1 232.5 L463.0 232.8 L464.9 233.1 L466.9 233.4 L468.8 233.7 L470.7 234.0 L472.6 234.3 L474.5 234.6 L476.5 235.0 L478.4 235.3 L480.3 235.6 L482.2 235.9 L484.1 236.3 L486.1 236.6 L488.0 236.9 L489.9 237.3 L491.8 237.6 L493.7 237.9 L495.6 238.3 L497.6 238.6 L499.5 239.0 L501.4 239.3 L503.3 239.7 L505.2 240.0 L507.1 240.4 L509.0 240.7 L511.0 241.1 L512.9 241.5 L514.8 241.8 L516.7 242.2 L518.6 242.6 L520.5 242.9 L522.4 243.3 L524.3 243.7 L526.2 244.1 L528.1 244.4 L530.0 244.8 L532.0 245.2 L533.9 245.6 L535.8 246.0 L537.7 246.4 L539.6 246.8 L541.5 247.2 L543.4 247.6 L545.3 248.0 L547.2 248.4 L549.1 248.8 L551.0 249.2 L552.9 249.6 L554.8 250.0 L556.7 250.4 L558.6 250.8 L560.5 251.2 L562.4 251.7 L564.3 252.1 L566.2 252.5 L568.1 252.9 L570.0 253.4 L571.9 253.8 L573.8 254.2 L575.7 254.7 L577.6 255.1 L579.5 255.5 L581.4 256.0 L583.3 256.4 L585.2 256.8 L587.0 257.3 L588.9 257.7 L590.8 258.2 L592.7 258.6 L594.6 259.1 L596.5 259.5 L598.4 260.0 L600.3 260.5 L602.2 260.9 L604.1 261.4 L606.0 261.8 L607.8 262.3 L609.7 262.8 L611.6 263.2 L613.5 263.7 L615.4 264.2 L617.3 264.6 L619.2 265.1 L621.1 265.6 L623.0 266.0 L624.8 266.5 L626.7 267.0 L628.6 267.5 L630.5 268.0 L632.4 268.4 L634.3 268.9 L636.1 269.4 L638.0 269.9 L639.9 270.4 L641.8 270.9 L643.7 271.3 L645.6 271.8 L647.4 272.3 L649.3 272.8 L651.2 273.3 L653.1 273.8 L655.0 274.3 L656.9 274.8 L658.7 275.3 L660.6 275.8 L662.5 276.3 L664.4 276.8 L666.3 277.3 L668.1 277.8 L670.0 278.3 L671.9 278.8 L673.8 279.3 L675.7 279.8 L677.6 280.3 L679.4 280.8 L681.3 281.3 L683.2 281.8 L685.1 282.3 L686.9 282.8 L688.8 283.3 L690.7 283.8 L692.6 284.3 L694.5 284.8 L696.3 285.3 L698.2 285.8 L700.1 286.3 L702.0 286.9 L703.9 287.4 L705.7 287.9 L707.6 288.4 L709.5 288.9 L711.4 289.4 L713.3 289.9 L715.1 290.4 L717.0 290.9 L718.9 291.4 L720.8 292.0 L722.6 292.5 L724.5 293.0 L726.4 293.5 L728.3 294.0 L730.2 294.5 L732.0 295.0 L733.9 295.5 L735.8 296.1 L737.7 296.6 L739.5 297.1 L741.4 297.6 L743.3 298.1 L745.2 298.6 L747.1 299.1 L748.9 299.6 L750.8 300.1 L752.7 300.7 L754.6 301.2 L756.5 301.7 L758.3 302.2 L760.2 302.7 L762.1 303.2 L764.0 303.7 L765.9 304.2 L767.7 304.7 L769.6 305.2 L771.5 305.7 L773.4 306.2 L775.2 306.8 L777.1 307.3 L779.0 307.8 L780.9 308.3 L782.8 308.8 L784.7 309.3 L786.5 309.8 L788.4 310.3 L790.3 310.8 L792.2 311.3 L794.1 311.8 L795.9 312.3 L797.8 312.8 L799.7 313.3 L801.6 313.8 L803.5 314.2 L805.4 314.7 L807.2 315.2 L809.1 315.7 L811.0 316.2 L812.9 316.7 L814.8 317.2 L816.7 317.7 L818.5 318.2 L820.4 318.7 L822.3 319.1 L824.2 319.6 L826.1 320.1 L828.0 320.6 L829.9 321.1 L831.7 321.5 L833.6 322.0 L835.5 322.5 L837.4 323.0 L839.3 323.4 L841.2 323.9 L843.1 324.4 L845.0 324.9 L846.8 325.3 L848.7 325.8 L850.6 326.3 L852.5 326.7 L854.4 327.2 L856.3 327.7 L858.2 328.1 L860.1 328.6 L862.0 329.0 L863.9 329.5 L865.7 329.9 L867.6 330.4 L869.5 330.9 L871.4 331.3 L873.3 331.8 L875.2 332.2 L877.1 332.7 L879.0 333.1 L880.9 333.5 L882.8 334.0 L884.7 334.4 L886.6 334.9 L888.5 335.3 L890.4 335.8 L892.3 336.2 L894.2 336.6 L896.0 337.1 L897.9 337.5 L899.8 337.9 L901.7 338.4 L903.6 338.8 L905.5 339.2 L907.4 339.6 L909.3 340.1 L911.2 340.5 L913.1 340.9 L915.0 341.3 L916.9 341.8 L918.8 342.2 L920.7 342.6 L922.6 343.0 L924.5 343.4 L926.4 343.8 L928.3 344.2 L930.2 344.6 L932.1 345.0 L934.0 345.4 L935.9 345.9 L937.8 346.3 L939.7 346.7 L941.6 347.1 L943.5 347.4 L945.4 347.8 L947.3 348.2 L949.2 348.6 L951.1 349.0 L953.0 349.4 L954.9 349.8 L956.8 350.2 L958.7 350.6 L960.6 350.9 L962.6 351.3 L964.5 351.7 L966.4 352.1 L968.3 352.5 L970.2 352.9 L972.1 353.3 L974.0 353.6 L975.9 354.0 L977.8 354.4 L979.7 354.8 L981.6 355.2 L983.5 355.6 L985.4 356.0 L987.3 356.4 L989.2 356.8 L991.1 357.2 L993.0 357.6 L994.9 358.1 L996.8 358.5 L998.7 358.9 L1000.6 359.4 L1002.5 359.8 L1004.3 360.3 L1006.2 360.7 L1008.1 361.2 L1010.0 361.6 L1011.9 362.1 L1013.8 362.6 L1015.7 363.1 L1017.5 363.6 L1019.4 364.1 L1021.3 364.6 L1023.2 365.2 L1025.1 365.7 L1026.9 366.2 L1028.8 366.8 L1030.7 367.4 L1032.6 367.9 L1034.4 368.5 L1036.3 369.1 L1038.1 369.7 L1040.0 370.4 L1041.9 371.0 L1043.7 371.7 L1045.6 372.3 L1047.4 373.0 L1049.3 373.7 L1051.1 374.4 L1053.0 375.1 L1054.8 375.8 L1056.6 376.6 L1058.4 377.3 L1060.2 378.1 L1062.0 378.9 L1063.8 379.7 L1065.6 380.5 L1067.4 381.4 L1069.2 382.2 L1070.9 383.1 L1072.7 384.0 L1074.4 384.9 L1076.1 385.9 L1077.8 386.8 L1079.5 387.8 L1081.2 388.8 L1082.8 389.8 L1084.5 390.8 L1086.1 391.8 L1087.7 392.9 L1089.3 394.0 L1090.8 395.1 L1092.4 396.2 L1093.9 397.4 L1095.4 398.6 L1096.9 399.8 L1098.4 401.0 L1099.8 402.2 L1101.2 403.5 L1102.6 404.8 L1104.0 406.1 L1105.3 407.4 L1106.7 408.8 L1108.0 410.2 L1109.3 411.6 L1110.5 413.0 L1111.8 414.4 L1113.0 415.9 L1114.2 417.3 L1115.4 418.8 L1116.5 420.3 L1117.7 421.9 L1118.8 423.4 L1119.9 425.0 L1121.0 426.6 L1122.1 428.1 L1123.2 429.8 L1124.2 431.4 L1125.3 433.0 L1126.3 434.7 L1127.3 436.3 L1128.3 438.0 L1129.3 439.7 L1130.2 441.4 L1131.2 443.1 L1132.1 444.8 L1133.0 446.5 L1134.0 448.2 L1134.9 450.0 L1135.8 451.7 L1136.6 453.5 L1137.5 455.3 L1138.4 457.0 L1139.2 458.8 L1140.1 460.6 L1140.9 462.4 L1141.8 464.2 L1142.6 466.0 L1143.4 467.8 L1144.2 469.6 L1145.0 471.4 L1145.8 473.2 L1146.6 475.0 L1147.4 476.9 L1148.2 478.7 L1149.0 480.5 L1149.8 482.3 L1150.5 484.1 L1151.3 485.9 L1152.1 487.8 L1152.9 489.6 L1153.6 491.4 L1154.4 493.2 L1155.1 495.0 L1155.9 496.8 L1156.6 498.7 L1157.4 500.5 L1158.1 502.3 L1158.9 504.1 L1159.6 505.9 L1160.3 507.7 L1161.1 509.6 L1161.8 511.4 L1162.5 513.2 L1163.2 515.0 L1164.0 516.8 L1164.7 518.7 L1165.4 520.5 L1166.1 522.3 L1166.8 524.1 L1167.5 525.9 L1168.2 527.8 L1168.9 529.6 L1169.6 531.4 L1170.3 533.2 L1171.0 535.0 L1171.7 536.9 L1172.4 538.7 L1173.1 540.5 L1173.7 542.3 L1174.4 544.1 L1175.1 546.0 L1175.8 547.8 L1176.4 549.6 L1177.1 551.4 L1177.8 553.3 L1178.4 555.1 L1179.1 556.9 L1179.8 558.7 L1180.4 560.6 L1181.1 562.4 L1181.7 564.2 L1182.4 566.0 L1183.0 567.9 L1183.7 569.7 L1184.3 571.5 L1184.9 573.3 L1185.6 575.2 L1186.2 577.0 L1186.8 578.8 L1187.5 580.7 L1188.1 582.5 L1188.7 584.3 L1189.4 586.2 L1190.0 588.0 L1190.6 589.8 L1191.2 591.7 L1191.9 593.5 L1192.5 595.3 L1193.1 597.2 L1193.7 599.0 L1194.3 600.8 L1194.9 602.7 L1195.5 604.5 L1196.1 606.4 L1196.7 608.2 L1197.3 610.0 L1197.9 611.9 L1198.6 613.7 L1199.1 615.6 L1199.7 617.4 L1200.3 619.2 L1200.9 621.1 L1201.5 622.9 L1202.1 624.8 L1202.7 626.6 L1203.3 628.5 L1203.9 630.3 L1204.5 632.2 L1205.1 634.0 L1205.6 635.9 L1206.2 637.7 L1206.8 639.6 L1207.4 641.4 L1208.0 643.3 L1208.6 645.1 L1209.1 647.0 L1209.7 648.9 L1210.3 650.7 L1210.9 652.6 L1211.4 654.4 L1212.0 656.3 L1212.6 658.2 L1213.1 660.0 L1213.7 661.9 L1214.3 663.7 L1214.9 665.6 L1215.4 667.5 L1216.0 669.3 L1216.6 671.2 L1217.1 673.1 L1217.7 674.9 L1218.3 676.8 L1218.8 678.7 L1219.4 680.5 L1220.0 682.4 L1220.6 684.3 L1221.1 686.1 L1221.7 688.0 L1222.3 689.9 L1222.9 691.7 L1223.5 693.6 L1224.1 695.5 L1224.7 697.3 L1225.3 699.2 L1225.9 701.1 L1226.5 702.9 L1227.1 704.8 L1227.7 706.6 L1228.3 708.5 L1229.0 710.3 L1229.6 712.2 L1230.2 714.0 L1230.9 715.9 L1231.5 717.7 L1232.2 719.6 L1232.9 721.4 L1233.5 723.2 L1234.2 725.1 L1234.9 726.9 L1235.6 728.7 L1236.3 730.5 L1237.0 732.4 L1237.7 734.2 L1238.5 736.0 L1239.2 737.8 L1240.0 739.6 L1240.7 741.4 L1241.5 743.2 L1242.3 745.0 L1243.1 746.8 L1243.9 748.6 L1244.7 750.3 L1245.5 752.1 L1246.3 753.9 L1247.2 755.6 L1248.0 757.4 L1248.9 759.1 L1249.8 760.9 L1250.7 762.6 L1251.6 764.3 L1252.5 766.0 L1253.4 767.7 L1254.4 769.4 L1255.3 771.1 L1256.3 772.8 L1257.3 774.5 L1258.3 776.2 L1259.3 777.8 L1260.3 779.4 L1261.3 781.1 L1262.4 782.7 L1263.4 784.3 L1264.5 785.9 L1265.6 787.5 L1266.7 789.1 L1267.9 790.6 L1269.0 792.2 L1270.2 793.7 L1271.3 795.2 L1272.5 796.7 L1273.7 798.2 L1275.0 799.7 L1276.2 801.2 L1277.5 802.6 L1278.7 804.0 L1280.0 805.5 L1281.3 806.9 L1282.6 808.3 L1284.0 809.7 L1285.3 811.0 L1286.7 812.4 L1288.1 813.7 L1289.4 815.1 L1290.8 816.4 L1292.3 817.7 L1293.7 819.0 L1295.1 820.3 L1296.6 821.6 L1298.0 822.8 L1299.5 824.1 L1301.0 825.3 L1302.5 826.6 L1304.0 827.8 L1305.5 829.0 L1307.1 830.2 L1308.6 831.4 L1310.1 832.6 L1311.7 833.8 L1313.3 834.9 L1314.8 836.1 L1316.4 837.2 L1318.0 838.4 L1319.6 839.5 L1321.2 840.6 L1322.8 841.8 L1324.5 842.9 L1326.1 844.0 L1327.7 845.1 L1329.4 846.2 L1331.0 847.2 L1332.6 848.3 L1334.3 849.4 L1336.0 850.4 L1337.6 851.5 L1339.3 852.6 L1341.0 853.6 L1342.6 854.6 L1344.3 855.7 L1346.0 856.7 L1347.7 857.7 L1349.4 858.7 L1351.1 859.8 L1352.8 860.8 L1354.5 861.8 L1356.2 862.8 L1357.9 863.8 L1359.6 864.8 L1361.3 865.8 L1363.0 866.8 L1364.7 867.7 L1366.4 868.7 L1368.1 869.7 L1369.8 870.7 L1371.5 871.7 L1373.2 872.6 L1374.9 873.6 L1376.6 874.6 L1378.3 875.5 L1380.0 876.5 L1381.7 877.4 L1383.4 878.4 L1385.1 879.3 L1386.8 880.3 L1388.5 881.2 L1390.2 882.2 L1391.9 883.1 L1393.6 884.0 L1395.3 885.0 L1397.0 885.9 L1398.7 886.8 L1400.5 887.7 L1402.2 888.6 L1403.9 889.5 L1405.6 890.4 L1407.3 891.3 L1409.0 892.2 L1410.8 893.1 L1412.5 894.0 L1414.2 894.8 L1415.9 895.7 L1417.7 896.6 L1419.4 897.4 L1421.1 898.3 L1422.9 899.2 L1424.6 900.0 L1426.4 900.8 L1428.1 901.7 L1429.9 902.5 L1431.6 903.3 L1433.4 904.1 L1435.1 905.0 L1436.9 905.8 L1438.6 906.6 L1440.4 907.4 L1442.1 908.2 L1443.9 908.9 L1445.7 909.7 L1447.5 910.5 L1449.2 911.2 L1451.0 912.0 L1452.8 912.8 L1454.6 913.5 L1456.4 914.2 L1458.2 915.0 L1460.0 915.7 L1461.8 916.4 L1463.6 917.2 L1465.4 917.9 L1467.2 918.6 L1469.0 919.3 L1470.8 920.0 L1472.6 920.7 L1474.4 921.4 L1476.2 922.0 L1478.1 922.7 L1479.9 923.4 L1481.7 924.0 L1483.5 924.7 L1485.4 925.4 L1487.2 926.0 L1489.0 926.6 L1490.9 927.3 L1492.7 927.9 L1494.6 928.5 L1496.4 929.2 L1498.2 929.8 L1500.1 930.4 L1501.9 931.0 L1503.8 931.6 L1505.7 932.2 L1507.5 932.8 L1509.4 933.4 L1511.2 934.0 L1513.1 934.6 L1514.9 935.2 L1516.8 935.7 L1518.7 936.3 L1520.5 936.9 L1522.4 937.4 L1524.3 938.0 L1526.1 938.5 L1528.0 939.1 L1529.9 939.6 L1531.8 940.2 L1533.6 940.7 L1535.5 941.2 L1537.4 941.8 L1539.3 942.3 L1541.2 942.8 L1543.0 943.3 L1544.9 943.9 L1546.8 944.4 L1548.7 944.9 L1550.6 945.4 L1552.5 945.9 L1554.4 946.4 L1556.3 946.9 L1558.1 947.4 L1560.0 947.8 L1561.9 948.3 L1563.8 948.8 L1565.7 949.3 L1567.6 949.8 L1569.5 950.2 L1571.4 950.7 L1573.3 951.2 L1575.2 951.6 L1577.1 952.1 L1579.0 952.5 L1580.9 953.0 L1582.8 953.4 L1584.7 953.9 L1586.6 954.3 L1588.5 954.8 L1590.4 955.2 L1592.3 955.6 L1594.2 956.1 L1596.1 956.5 L1598.0 956.9 L1599.9 957.4 L1601.8 957.8 L1603.7 958.2 L1605.6 958.6 L1607.5 959.1 L1609.4 959.5 L1611.3 959.9 L1613.2 960.3 L1615.0 960.7 L1616.9 961.1 L1618.8 961.5 L1620.7 961.9 L1622.6 962.3 L1624.5 962.7 L1626.4 963.1 L1628.3 963.5 L1630.2 963.9 L1632.1 964.3 L1634.0 964.7"/>
</g>
<rect x="1446" y="1.5" width="423.5" height="497.5" fill="#fff" stroke="#000" stroke-width="2"/>
<g fill="none" stroke="#000">
<path stroke-width="5.0" d="M1477.4 62.0 H1592.5"/>
<path stroke-width="3.6" stroke-dasharray="6 6.25" d="M1477.4 124.9 H1592.5"/>
<path stroke-width="3.6" stroke-dasharray="3.4 12.6" d="M1477.4 187.8 H1592.5"/>
<path stroke-width="3.6" stroke-dasharray="14.5 7.5 3.5 7.5" d="M1477.4 250.7 H1592.5"/>
<path stroke-width="3.6" stroke-dasharray="6 6.25" d="M1477.4 313.6 H1592.5"/>
<path stroke-width="3.2" d="M1477.4 376.5 H1592.5"/>
<path stroke-width="3.6" stroke-dasharray="12.5 13.8" d="M1477.4 439.4 H1592.5"/>
</g>
<text transform="translate(1605.5 79.6) scale(1 1.040)" font-size="51.6" text-anchor="start">1 Ch</text>
<text transform="translate(1605.5 142.5) scale(1 1.040)" font-size="51.6" text-anchor="start">2 ChS1</text>
<text transform="translate(1605.5 205.4) scale(1 1.040)" font-size="51.6" text-anchor="start">3 ChS2</text>
<text transform="translate(1605.5 268.3) scale(1 1.040)" font-size="51.6" text-anchor="start">4 ChS1P1</text>
<text transform="translate(1605.5 331.2) scale(1 1.040)" font-size="51.6" text-anchor="start">5 ChS1P2</text>
<text transform="translate(1605.5 394.1) scale(1 1.040)" font-size="51.6" text-anchor="start">6 ChS2P1</text>
<text transform="translate(1605.5 457.0) scale(1 1.040)" font-size="51.6" text-anchor="start">7 ChS2P2</text>
<path d="M1119.3 279.0 L1109.5 298.1" stroke="#000" stroke-width="2.8" fill="none"/><path d="M1097.7 321.2 L1103.8 292.9 L1117.1 299.7 Z" fill="#000"/>
<path d="M1294.4 573.2 L1276.1 595.0" stroke="#000" stroke-width="2.8" fill="none"/><path d="M1263.9 609.5 L1273.7 590.3 L1281.1 596.5 Z" fill="#000"/>
<text transform="translate(1090.6 268.2) scale(1 1.040)" font-size="51.6" text-anchor="start">T=260</text><text transform="translate(1237.6 244.4) scale(1.35 1.0)" font-size="14" font-weight="bold">(</text><text transform="translate(1243.4 268.2) scale(1 1.040)" font-size="51.6" text-anchor="start">&#176;C</text>
<text transform="translate(1301.5 566.3) scale(1 1.040)" font-size="51.6" text-anchor="start">T=300</text><text transform="translate(1448.5 542.5) scale(1.35 1.0)" font-size="14" font-weight="bold">(</text><text transform="translate(1454.3 566.3) scale(1 1.040)" font-size="51.6" text-anchor="start">&#176;C</text>
<g stroke="#000" stroke-width="2.8" fill="none">
<path d="M1201.3 673.9 H1234.8"/>
<path d="M1196.0 751.0 L1257.0 779.2"/>
<path d="M1364.6 692.5 L1338.5 771.2"/>
<path d="M1418.1 730.3 L1400.1 773.3"/>
<path d="M1371.9 845.5 L1343.8 896.2"/>
</g>
<text transform="translate(1154.4 697.0) scale(1 1.040)" font-size="51.6" text-anchor="start">2</text>
<text transform="translate(1172.3 756.8) scale(1 1.040)" font-size="51.6" text-anchor="start">1</text>
<text transform="translate(1240.0 895.7) scale(1 1.040)" font-size="51.6" text-anchor="start">3</text>
<text transform="translate(1354.3 686.2) scale(1 1.040)" font-size="51.6" text-anchor="start">4</text>
<text transform="translate(1540.8 857.7) scale(1 1.040)" font-size="51.6" text-anchor="start">5</text>
<text transform="translate(1348.3 939.2) scale(1 1.040)" font-size="51.6" text-anchor="start">6</text>
<text transform="translate(1415.9 720.3) scale(1 1.040)" font-size="51.6" text-anchor="start">7</text>
</svg></body></html>
